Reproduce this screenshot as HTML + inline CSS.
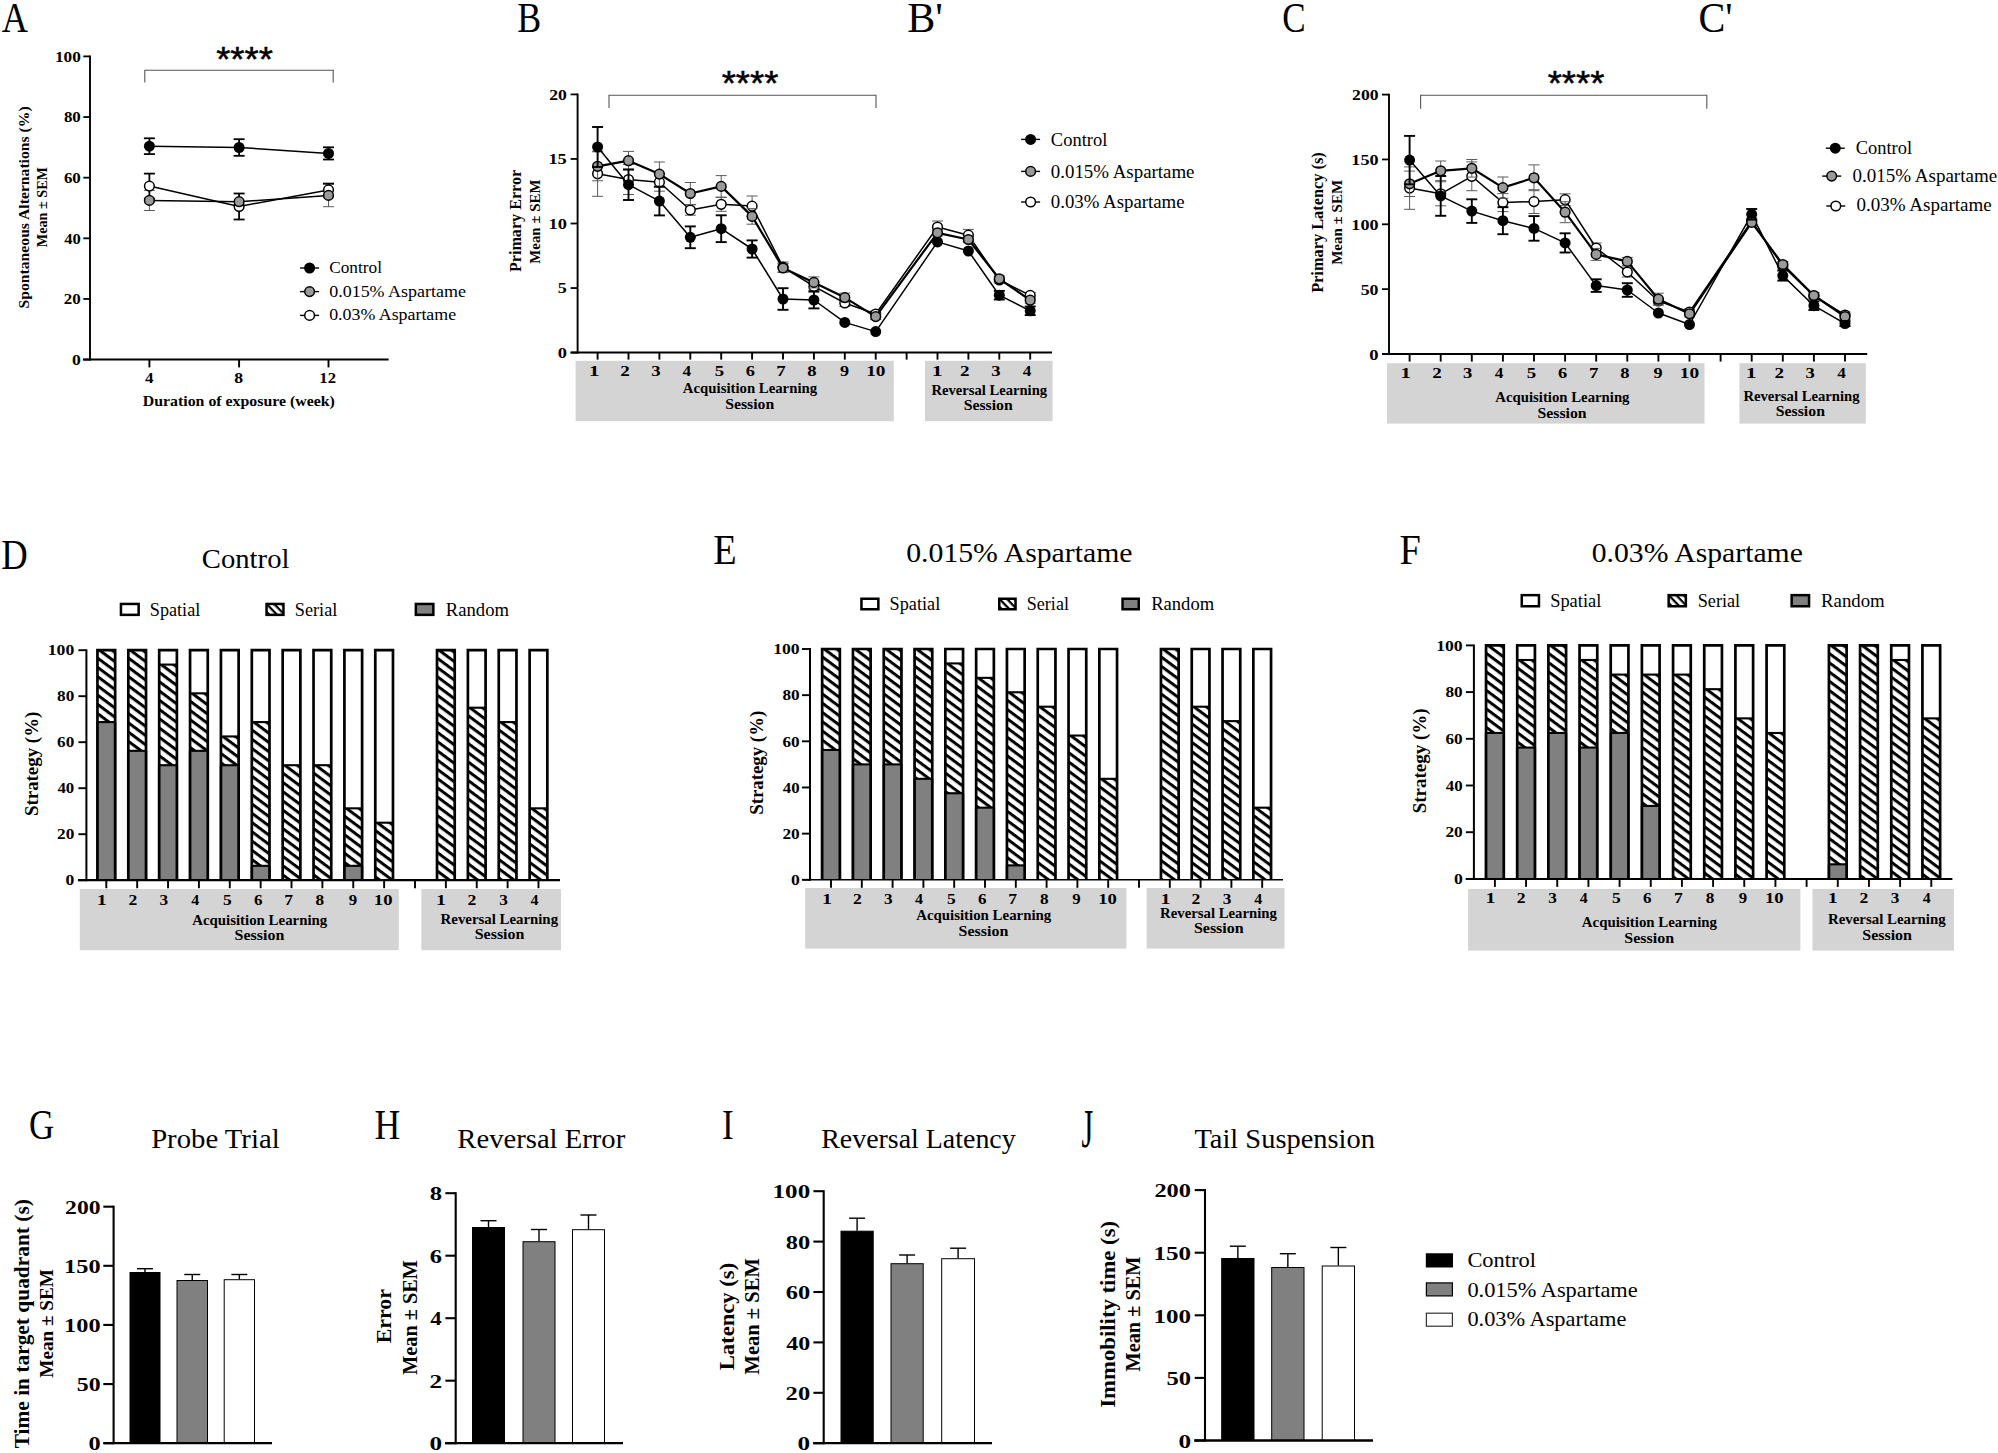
<!DOCTYPE html>
<html lang="en"><head><meta charset="utf-8"><title>Figure</title>
<style>html,body{margin:0;padding:0;background:#fff}svg{display:block}text{white-space:pre;font-family:"Liberation Serif",serif;fill:#000}.b{font-weight:bold}.s{font-family:"Liberation Sans",sans-serif;stroke:#000;stroke-width:.5px;stroke-linejoin:round}</style></head>
<body>
<svg width="1998" height="1453" viewBox="0 0 1998 1453">
<defs>
<pattern id="h" x="0" y="-3.5" width="12" height="7.43" patternUnits="userSpaceOnUse" patternTransform="rotate(36.6)"><rect width="12" height="7.43" fill="#fff"/><rect width="12" height="3" fill="#000"/></pattern>
<pattern id="h2" x="0" y="-1.1" width="12" height="5.4" patternUnits="userSpaceOnUse" patternTransform="rotate(46)"><rect width="12" height="5.4" fill="#fff"/><rect width="12" height="2.2" fill="#000"/></pattern>
</defs>
<rect width="1998" height="1453" fill="#fff"/>
<text transform="translate(1.64,32) scale(0.8504,1)" font-size="42.7">A</text>
<line x1="90" y1="55.5" x2="90" y2="360.6" stroke="#000" stroke-width="1.9"/>
<line x1="83" y1="359.6" x2="388.6" y2="359.6" stroke="#000" stroke-width="2"/>
<line x1="83.3" y1="359.6" x2="90" y2="359.6" stroke="#000" stroke-width="1.8"/>
<line x1="83.3" y1="298.96" x2="90" y2="298.96" stroke="#000" stroke-width="1.8"/>
<line x1="83.3" y1="238.32" x2="90" y2="238.32" stroke="#000" stroke-width="1.8"/>
<line x1="83.3" y1="177.68" x2="90" y2="177.68" stroke="#000" stroke-width="1.8"/>
<line x1="83.3" y1="117.04" x2="90" y2="117.04" stroke="#000" stroke-width="1.8"/>
<line x1="83.3" y1="56.4" x2="90" y2="56.4" stroke="#000" stroke-width="1.8"/>
<text transform="translate(72,364.9) scale(1.2235,1)" font-size="14.4" class="b">0</text>
<text transform="translate(63.82,304.26) scale(1.1775,1)" font-size="14.4" class="b">20</text>
<text transform="translate(64.25,243.62) scale(1.1464,1)" font-size="14.4" class="b">40</text>
<text transform="translate(63.91,182.98) scale(1.1712,1)" font-size="14.4" class="b">60</text>
<text transform="translate(63.91,122.34) scale(1.1712,1)" font-size="14.4" class="b">80</text>
<text transform="translate(54.92,61.7) scale(1.1977,1)" font-size="14.4" class="b">100</text>
<line x1="149.4" y1="359.6" x2="149.4" y2="367.4" stroke="#000" stroke-width="1.9"/>
<line x1="239.1" y1="359.6" x2="239.1" y2="367.4" stroke="#000" stroke-width="1.9"/>
<line x1="328.5" y1="359.6" x2="328.5" y2="367.4" stroke="#000" stroke-width="1.9"/>
<text transform="translate(144.95,382.5) scale(1.1964,1)" font-size="14.2" class="b">4</text>
<text transform="translate(234.18,382.5) scale(1.2447,1)" font-size="14.2" class="b">8</text>
<text transform="translate(319.36,382.5) scale(1.1764,1)" font-size="14.2" class="b">12</text>
<text transform="translate(142.76,405.6) scale(1.0865,1)" font-size="14.6" class="b">Duration of exposure (week)</text>
<text transform="translate(28.5,308.46) rotate(-90) scale(1.0325,1)" font-size="15.2" class="b">Spontaneous Alternations (%)</text>
<text transform="translate(46.7,247.21) rotate(-90) scale(0.9710,1)" font-size="14.6" class="b">Mean ± SEM</text>
<polyline fill="none" stroke="#555" stroke-width="1.1" points="144.8,82.6 144.8,70.3 333.2,70.3 333.2,82.6"/>
<text transform="translate(216.2,71.05) scale(1.0441,1)" font-size="34.86" class="s">****</text>
<line x1="149.4" y1="190.3" x2="149.4" y2="210.5" stroke="#5c5c5c" stroke-width="1"/>
<line x1="143.9" y1="190.3" x2="154.9" y2="190.3" stroke="#5c5c5c" stroke-width="1"/>
<line x1="143.9" y1="210.5" x2="154.9" y2="210.5" stroke="#5c5c5c" stroke-width="1"/>
<line x1="328.5" y1="184.1" x2="328.5" y2="206.7" stroke="#5c5c5c" stroke-width="1"/>
<line x1="323" y1="184.1" x2="334" y2="184.1" stroke="#5c5c5c" stroke-width="1"/>
<line x1="323" y1="206.7" x2="334" y2="206.7" stroke="#5c5c5c" stroke-width="1"/>
<line x1="149.4" y1="173.6" x2="149.4" y2="198.6" stroke="#000" stroke-width="1.8"/>
<line x1="143.9" y1="173.6" x2="154.9" y2="173.6" stroke="#000" stroke-width="1.8"/>
<line x1="143.9" y1="198.6" x2="154.9" y2="198.6" stroke="#000" stroke-width="1.8"/>
<line x1="239.1" y1="193.5" x2="239.1" y2="219.5" stroke="#000" stroke-width="1.8"/>
<line x1="233.6" y1="193.5" x2="244.6" y2="193.5" stroke="#000" stroke-width="1.8"/>
<line x1="233.6" y1="219.5" x2="244.6" y2="219.5" stroke="#000" stroke-width="1.8"/>
<line x1="328.5" y1="183.6" x2="328.5" y2="196.2" stroke="#000" stroke-width="1.8"/>
<line x1="323" y1="183.6" x2="334" y2="183.6" stroke="#000" stroke-width="1.8"/>
<line x1="323" y1="196.2" x2="334" y2="196.2" stroke="#000" stroke-width="1.8"/>
<polyline fill="none" stroke="#000" stroke-width="1.5" stroke-linejoin="round" points="149.4,186.1 239.1,206.5 328.5,189.9"/>
<circle cx="149.4" cy="186.1" r="4.85" fill="#fff" stroke="#000" stroke-width="1.5"/>
<circle cx="239.1" cy="206.5" r="4.85" fill="#fff" stroke="#000" stroke-width="1.5"/>
<circle cx="328.5" cy="189.9" r="4.85" fill="#fff" stroke="#000" stroke-width="1.5"/>
<line x1="149.4" y1="138.3" x2="149.4" y2="154.1" stroke="#000" stroke-width="1.8"/>
<line x1="143.9" y1="138.3" x2="154.9" y2="138.3" stroke="#000" stroke-width="1.8"/>
<line x1="143.9" y1="154.1" x2="154.9" y2="154.1" stroke="#000" stroke-width="1.8"/>
<line x1="239.1" y1="139.2" x2="239.1" y2="155.8" stroke="#000" stroke-width="1.8"/>
<line x1="233.6" y1="139.2" x2="244.6" y2="139.2" stroke="#000" stroke-width="1.8"/>
<line x1="233.6" y1="155.8" x2="244.6" y2="155.8" stroke="#000" stroke-width="1.8"/>
<line x1="328.5" y1="147.3" x2="328.5" y2="159.5" stroke="#000" stroke-width="1.8"/>
<line x1="323" y1="147.3" x2="334" y2="147.3" stroke="#000" stroke-width="1.8"/>
<line x1="323" y1="159.5" x2="334" y2="159.5" stroke="#000" stroke-width="1.8"/>
<polyline fill="none" stroke="#000" stroke-width="1.5" stroke-linejoin="round" points="149.4,146.2 239.1,147.5 328.5,153.4"/>
<circle cx="149.4" cy="146.2" r="5.5" fill="#000" stroke="#000" stroke-width="0.01"/>
<circle cx="239.1" cy="147.5" r="5.5" fill="#000" stroke="#000" stroke-width="0.01"/>
<circle cx="328.5" cy="153.4" r="5.5" fill="#000" stroke="#000" stroke-width="0.01"/>
<polyline fill="none" stroke="#000" stroke-width="1.5" stroke-linejoin="round" points="149.4,200.4 239.1,201.7 328.5,195.4"/>
<circle cx="149.4" cy="200.4" r="4.85" fill="#9a9a9a" stroke="#000" stroke-width="1.5"/>
<circle cx="239.1" cy="201.7" r="4.85" fill="#9a9a9a" stroke="#000" stroke-width="1.5"/>
<circle cx="328.5" cy="195.4" r="4.85" fill="#9a9a9a" stroke="#000" stroke-width="1.5"/>
<line x1="300.1" y1="268" x2="319.1" y2="268" stroke="#000" stroke-width="1.4"/>
<circle cx="309.6" cy="268" r="5.5" fill="#000" stroke="#000" stroke-width="0.01"/>
<text transform="translate(329.21,273) scale(0.9811,1)" font-size="17.6">Control</text>
<line x1="300.1" y1="291.6" x2="319.1" y2="291.6" stroke="#000" stroke-width="1.4"/>
<circle cx="309.6" cy="291.6" r="4.85" fill="#9a9a9a" stroke="#000" stroke-width="1.5"/>
<text transform="translate(329.18,297) scale(1.0217,1)" font-size="17.6">0.015% Aspartame</text>
<line x1="300.1" y1="315.4" x2="319.1" y2="315.4" stroke="#000" stroke-width="1.4"/>
<circle cx="309.6" cy="315.4" r="4.85" fill="#fff" stroke="#000" stroke-width="1.5"/>
<text transform="translate(329.19,320.4) scale(1.0152,1)" font-size="17.6">0.03% Aspartame</text>
<text transform="translate(517.32,32) scale(0.8415,1)" font-size="42.7">B</text>
<text transform="translate(907.14,32) scale(0.9851,1)" font-size="42.7">B'</text>
<line x1="577.6" y1="93.5" x2="577.6" y2="353.6" stroke="#000" stroke-width="1.9"/>
<line x1="570.6" y1="352.6" x2="1052" y2="352.6" stroke="#000" stroke-width="2"/>
<line x1="570.6" y1="352.6" x2="577.6" y2="352.6" stroke="#000" stroke-width="1.8"/>
<line x1="570.6" y1="288.05" x2="577.6" y2="288.05" stroke="#000" stroke-width="1.8"/>
<line x1="570.6" y1="223.5" x2="577.6" y2="223.5" stroke="#000" stroke-width="1.8"/>
<line x1="570.6" y1="158.95" x2="577.6" y2="158.95" stroke="#000" stroke-width="1.8"/>
<line x1="570.6" y1="94.4" x2="577.6" y2="94.4" stroke="#000" stroke-width="1.8"/>
<text transform="translate(557.67,358) scale(1.1828,1)" font-size="15.5" class="b">0</text>
<text transform="translate(557.68,293.45) scale(1.1689,1)" font-size="15.5" class="b">5</text>
<text transform="translate(548.43,228.9) scale(1.1877,1)" font-size="15.5" class="b">10</text>
<text transform="translate(548.44,164.35) scale(1.1810,1)" font-size="15.5" class="b">15</text>
<text transform="translate(549.2,99.8) scale(1.1360,1)" font-size="15.5" class="b">20</text>
<line x1="597.6" y1="352.6" x2="597.6" y2="359.6" stroke="#000" stroke-width="1.9"/>
<line x1="628.5" y1="352.6" x2="628.5" y2="359.6" stroke="#000" stroke-width="1.9"/>
<line x1="659.4" y1="352.6" x2="659.4" y2="359.6" stroke="#000" stroke-width="1.9"/>
<line x1="690.3" y1="352.6" x2="690.3" y2="359.6" stroke="#000" stroke-width="1.9"/>
<line x1="721.2" y1="352.6" x2="721.2" y2="359.6" stroke="#000" stroke-width="1.9"/>
<line x1="752.1" y1="352.6" x2="752.1" y2="359.6" stroke="#000" stroke-width="1.9"/>
<line x1="783" y1="352.6" x2="783" y2="359.6" stroke="#000" stroke-width="1.9"/>
<line x1="813.9" y1="352.6" x2="813.9" y2="359.6" stroke="#000" stroke-width="1.9"/>
<line x1="844.8" y1="352.6" x2="844.8" y2="359.6" stroke="#000" stroke-width="1.9"/>
<line x1="875.7" y1="352.6" x2="875.7" y2="359.6" stroke="#000" stroke-width="1.9"/>
<line x1="906.6" y1="352.6" x2="906.6" y2="359.6" stroke="#000" stroke-width="1.9"/>
<line x1="937.5" y1="352.6" x2="937.5" y2="359.6" stroke="#000" stroke-width="1.9"/>
<line x1="968.4" y1="352.6" x2="968.4" y2="359.6" stroke="#000" stroke-width="1.9"/>
<line x1="999.3" y1="352.6" x2="999.3" y2="359.6" stroke="#000" stroke-width="1.9"/>
<line x1="1030.2" y1="352.6" x2="1030.2" y2="359.6" stroke="#000" stroke-width="1.9"/>
<rect x="575.6" y="360.8" width="318.2" height="60.4" fill="#d4d4d4"/>
<rect x="925" y="360.8" width="127.6" height="60.4" fill="#d4d4d4"/>
<text transform="translate(588.67,376) scale(1.4040,1)" font-size="15.4" class="b">1</text>
<text transform="translate(620.24,376) scale(1.2369,1)" font-size="15.4" class="b">2</text>
<text transform="translate(651.15,376) scale(1.2081,1)" font-size="15.4" class="b">3</text>
<text transform="translate(682.54,376) scale(1.1172,1)" font-size="15.4" class="b">4</text>
<text transform="translate(714.85,376) scale(1.2223,1)" font-size="15.4" class="b">5</text>
<text transform="translate(745.86,376) scale(1.1942,1)" font-size="15.4" class="b">6</text>
<text transform="translate(776.15,376) scale(1.2369,1)" font-size="15.4" class="b">7</text>
<text transform="translate(807.35,376) scale(1.2081,1)" font-size="15.4" class="b">8</text>
<text transform="translate(840.05,376) scale(1.1806,1)" font-size="15.4" class="b">9</text>
<text transform="translate(866.15,376) scale(1.2544,1)" font-size="15.4" class="b">10</text>
<text transform="translate(931.67,376) scale(1.4040,1)" font-size="15.4" class="b">1</text>
<text transform="translate(959.94,376) scale(1.2369,1)" font-size="15.4" class="b">2</text>
<text transform="translate(991.35,376) scale(1.2081,1)" font-size="15.4" class="b">3</text>
<text transform="translate(1022.74,376) scale(1.1172,1)" font-size="15.4" class="b">4</text>
<text transform="translate(682.85,393.4) scale(1.0125,1)" font-size="14.6" class="b">Acquisition Learning</text>
<text transform="translate(725.13,408.8) scale(1.0815,1)" font-size="14.6" class="b">Session</text>
<text transform="translate(931.38,395.2) scale(1.0018,1)" font-size="14.6" class="b">Reversal Learning</text>
<text transform="translate(963.63,410.4) scale(1.0815,1)" font-size="14.6" class="b">Session</text>
<text transform="translate(521.2,272.04) rotate(-90) scale(0.9835,1)" font-size="16.4" class="b">Primary Error</text>
<text transform="translate(540,263.72) rotate(-90) scale(0.9606,1)" font-size="15.5" class="b">Mean ± SEM</text>
<polyline fill="none" stroke="#555" stroke-width="1.1" points="609,108 609,95.3 876,95.3 876,108"/>
<text transform="translate(721.7,95.05) scale(1.0441,1)" font-size="34.86" class="s">****</text>
<line x1="597.6" y1="151.3" x2="597.6" y2="196.3" stroke="#5c5c5c" stroke-width="1"/>
<line x1="592.1" y1="151.3" x2="603.1" y2="151.3" stroke="#5c5c5c" stroke-width="1"/>
<line x1="592.1" y1="196.3" x2="603.1" y2="196.3" stroke="#5c5c5c" stroke-width="1"/>
<line x1="628.5" y1="164.5" x2="628.5" y2="194.5" stroke="#5c5c5c" stroke-width="1"/>
<line x1="623" y1="164.5" x2="634" y2="164.5" stroke="#5c5c5c" stroke-width="1"/>
<line x1="623" y1="194.5" x2="634" y2="194.5" stroke="#5c5c5c" stroke-width="1"/>
<line x1="659.4" y1="173.2" x2="659.4" y2="191.2" stroke="#5c5c5c" stroke-width="1"/>
<line x1="653.9" y1="173.2" x2="664.9" y2="173.2" stroke="#5c5c5c" stroke-width="1"/>
<line x1="653.9" y1="191.2" x2="664.9" y2="191.2" stroke="#5c5c5c" stroke-width="1"/>
<line x1="690.3" y1="204.8" x2="690.3" y2="215.2" stroke="#5c5c5c" stroke-width="1"/>
<line x1="684.8" y1="204.8" x2="695.8" y2="204.8" stroke="#5c5c5c" stroke-width="1"/>
<line x1="684.8" y1="215.2" x2="695.8" y2="215.2" stroke="#5c5c5c" stroke-width="1"/>
<line x1="721.2" y1="197.3" x2="721.2" y2="211.3" stroke="#5c5c5c" stroke-width="1"/>
<line x1="715.7" y1="197.3" x2="726.7" y2="197.3" stroke="#5c5c5c" stroke-width="1"/>
<line x1="715.7" y1="211.3" x2="726.7" y2="211.3" stroke="#5c5c5c" stroke-width="1"/>
<line x1="752.1" y1="196" x2="752.1" y2="216.2" stroke="#5c5c5c" stroke-width="1"/>
<line x1="746.6" y1="196" x2="757.6" y2="196" stroke="#5c5c5c" stroke-width="1"/>
<line x1="746.6" y1="216.2" x2="757.6" y2="216.2" stroke="#5c5c5c" stroke-width="1"/>
<line x1="783" y1="262" x2="783" y2="272" stroke="#5c5c5c" stroke-width="1"/>
<line x1="777.5" y1="262" x2="788.5" y2="262" stroke="#5c5c5c" stroke-width="1"/>
<line x1="777.5" y1="272" x2="788.5" y2="272" stroke="#5c5c5c" stroke-width="1"/>
<line x1="813.9" y1="282.4" x2="813.9" y2="290.4" stroke="#5c5c5c" stroke-width="1"/>
<line x1="808.4" y1="282.4" x2="819.4" y2="282.4" stroke="#5c5c5c" stroke-width="1"/>
<line x1="808.4" y1="290.4" x2="819.4" y2="290.4" stroke="#5c5c5c" stroke-width="1"/>
<line x1="844.8" y1="299.5" x2="844.8" y2="306.5" stroke="#5c5c5c" stroke-width="1"/>
<line x1="839.3" y1="299.5" x2="850.3" y2="299.5" stroke="#5c5c5c" stroke-width="1"/>
<line x1="839.3" y1="306.5" x2="850.3" y2="306.5" stroke="#5c5c5c" stroke-width="1"/>
<line x1="875.7" y1="311" x2="875.7" y2="317" stroke="#5c5c5c" stroke-width="1"/>
<line x1="870.2" y1="311" x2="881.2" y2="311" stroke="#5c5c5c" stroke-width="1"/>
<line x1="870.2" y1="317" x2="881.2" y2="317" stroke="#5c5c5c" stroke-width="1"/>
<line x1="937.5" y1="221" x2="937.5" y2="233" stroke="#5c5c5c" stroke-width="1"/>
<line x1="932" y1="221" x2="943" y2="221" stroke="#5c5c5c" stroke-width="1"/>
<line x1="932" y1="233" x2="943" y2="233" stroke="#5c5c5c" stroke-width="1"/>
<line x1="968.4" y1="229.4" x2="968.4" y2="241" stroke="#5c5c5c" stroke-width="1"/>
<line x1="962.9" y1="229.4" x2="973.9" y2="229.4" stroke="#5c5c5c" stroke-width="1"/>
<line x1="962.9" y1="241" x2="973.9" y2="241" stroke="#5c5c5c" stroke-width="1"/>
<line x1="999.3" y1="277" x2="999.3" y2="283" stroke="#5c5c5c" stroke-width="1"/>
<line x1="993.8" y1="277" x2="1004.8" y2="277" stroke="#5c5c5c" stroke-width="1"/>
<line x1="993.8" y1="283" x2="1004.8" y2="283" stroke="#5c5c5c" stroke-width="1"/>
<line x1="1030.2" y1="292.4" x2="1030.2" y2="298.4" stroke="#5c5c5c" stroke-width="1"/>
<line x1="1024.7" y1="292.4" x2="1035.7" y2="292.4" stroke="#5c5c5c" stroke-width="1"/>
<line x1="1024.7" y1="298.4" x2="1035.7" y2="298.4" stroke="#5c5c5c" stroke-width="1"/>
<polyline fill="none" stroke="#000" stroke-width="1.5" stroke-linejoin="round" points="597.6,173.8 628.5,179.5 659.4,182.2 690.3,210 721.2,204.3 752.1,206.1 783,267 813.9,286.4 844.8,303 875.7,314 937.5,227 968.4,235.2 999.3,280 1030.2,295.4"/>
<circle cx="597.6" cy="173.8" r="4.85" fill="#fff" stroke="#000" stroke-width="1.5"/>
<circle cx="628.5" cy="179.5" r="4.85" fill="#fff" stroke="#000" stroke-width="1.5"/>
<circle cx="659.4" cy="182.2" r="4.85" fill="#fff" stroke="#000" stroke-width="1.5"/>
<circle cx="690.3" cy="210" r="4.85" fill="#fff" stroke="#000" stroke-width="1.5"/>
<circle cx="721.2" cy="204.3" r="4.85" fill="#fff" stroke="#000" stroke-width="1.5"/>
<circle cx="752.1" cy="206.1" r="4.85" fill="#fff" stroke="#000" stroke-width="1.5"/>
<circle cx="783" cy="267" r="4.85" fill="#fff" stroke="#000" stroke-width="1.5"/>
<circle cx="813.9" cy="286.4" r="4.85" fill="#fff" stroke="#000" stroke-width="1.5"/>
<circle cx="844.8" cy="303" r="4.85" fill="#fff" stroke="#000" stroke-width="1.5"/>
<circle cx="875.7" cy="314" r="4.85" fill="#fff" stroke="#000" stroke-width="1.5"/>
<circle cx="937.5" cy="227" r="4.85" fill="#fff" stroke="#000" stroke-width="1.5"/>
<circle cx="968.4" cy="235.2" r="4.85" fill="#fff" stroke="#000" stroke-width="1.5"/>
<circle cx="999.3" cy="280" r="4.85" fill="#fff" stroke="#000" stroke-width="1.5"/>
<circle cx="1030.2" cy="295.4" r="4.85" fill="#fff" stroke="#000" stroke-width="1.5"/>
<line x1="597.6" y1="151.8" x2="597.6" y2="180.8" stroke="#5c5c5c" stroke-width="1"/>
<line x1="592.1" y1="151.8" x2="603.1" y2="151.8" stroke="#5c5c5c" stroke-width="1"/>
<line x1="592.1" y1="180.8" x2="603.1" y2="180.8" stroke="#5c5c5c" stroke-width="1"/>
<line x1="628.5" y1="151.4" x2="628.5" y2="170" stroke="#5c5c5c" stroke-width="1"/>
<line x1="623" y1="151.4" x2="634" y2="151.4" stroke="#5c5c5c" stroke-width="1"/>
<line x1="623" y1="170" x2="634" y2="170" stroke="#5c5c5c" stroke-width="1"/>
<line x1="659.4" y1="162" x2="659.4" y2="186.2" stroke="#5c5c5c" stroke-width="1"/>
<line x1="653.9" y1="162" x2="664.9" y2="162" stroke="#5c5c5c" stroke-width="1"/>
<line x1="653.9" y1="186.2" x2="664.9" y2="186.2" stroke="#5c5c5c" stroke-width="1"/>
<line x1="690.3" y1="182.5" x2="690.3" y2="204.5" stroke="#5c5c5c" stroke-width="1"/>
<line x1="684.8" y1="182.5" x2="695.8" y2="182.5" stroke="#5c5c5c" stroke-width="1"/>
<line x1="684.8" y1="204.5" x2="695.8" y2="204.5" stroke="#5c5c5c" stroke-width="1"/>
<line x1="721.2" y1="175.6" x2="721.2" y2="197.2" stroke="#5c5c5c" stroke-width="1"/>
<line x1="715.7" y1="175.6" x2="726.7" y2="175.6" stroke="#5c5c5c" stroke-width="1"/>
<line x1="715.7" y1="197.2" x2="726.7" y2="197.2" stroke="#5c5c5c" stroke-width="1"/>
<line x1="752.1" y1="208.6" x2="752.1" y2="224.2" stroke="#5c5c5c" stroke-width="1"/>
<line x1="746.6" y1="208.6" x2="757.6" y2="208.6" stroke="#5c5c5c" stroke-width="1"/>
<line x1="746.6" y1="224.2" x2="757.6" y2="224.2" stroke="#5c5c5c" stroke-width="1"/>
<line x1="783" y1="263.5" x2="783" y2="272.5" stroke="#5c5c5c" stroke-width="1"/>
<line x1="777.5" y1="263.5" x2="788.5" y2="263.5" stroke="#5c5c5c" stroke-width="1"/>
<line x1="777.5" y1="272.5" x2="788.5" y2="272.5" stroke="#5c5c5c" stroke-width="1"/>
<line x1="813.9" y1="276.9" x2="813.9" y2="287.9" stroke="#5c5c5c" stroke-width="1"/>
<line x1="808.4" y1="276.9" x2="819.4" y2="276.9" stroke="#5c5c5c" stroke-width="1"/>
<line x1="808.4" y1="287.9" x2="819.4" y2="287.9" stroke="#5c5c5c" stroke-width="1"/>
<line x1="844.8" y1="293.1" x2="844.8" y2="302.1" stroke="#5c5c5c" stroke-width="1"/>
<line x1="839.3" y1="293.1" x2="850.3" y2="293.1" stroke="#5c5c5c" stroke-width="1"/>
<line x1="839.3" y1="302.1" x2="850.3" y2="302.1" stroke="#5c5c5c" stroke-width="1"/>
<line x1="875.7" y1="313.6" x2="875.7" y2="319.6" stroke="#5c5c5c" stroke-width="1"/>
<line x1="870.2" y1="313.6" x2="881.2" y2="313.6" stroke="#5c5c5c" stroke-width="1"/>
<line x1="870.2" y1="319.6" x2="881.2" y2="319.6" stroke="#5c5c5c" stroke-width="1"/>
<line x1="937.5" y1="229.8" x2="937.5" y2="235.8" stroke="#5c5c5c" stroke-width="1"/>
<line x1="932" y1="229.8" x2="943" y2="229.8" stroke="#5c5c5c" stroke-width="1"/>
<line x1="932" y1="235.8" x2="943" y2="235.8" stroke="#5c5c5c" stroke-width="1"/>
<line x1="968.4" y1="236.5" x2="968.4" y2="242.5" stroke="#5c5c5c" stroke-width="1"/>
<line x1="962.9" y1="236.5" x2="973.9" y2="236.5" stroke="#5c5c5c" stroke-width="1"/>
<line x1="962.9" y1="242.5" x2="973.9" y2="242.5" stroke="#5c5c5c" stroke-width="1"/>
<line x1="999.3" y1="275.8" x2="999.3" y2="281.8" stroke="#5c5c5c" stroke-width="1"/>
<line x1="993.8" y1="275.8" x2="1004.8" y2="275.8" stroke="#5c5c5c" stroke-width="1"/>
<line x1="993.8" y1="281.8" x2="1004.8" y2="281.8" stroke="#5c5c5c" stroke-width="1"/>
<line x1="1030.2" y1="297.2" x2="1030.2" y2="303.2" stroke="#5c5c5c" stroke-width="1"/>
<line x1="1024.7" y1="297.2" x2="1035.7" y2="297.2" stroke="#5c5c5c" stroke-width="1"/>
<line x1="1024.7" y1="303.2" x2="1035.7" y2="303.2" stroke="#5c5c5c" stroke-width="1"/>
<polyline fill="none" stroke="#000" stroke-width="1.5" stroke-linejoin="round" points="597.6,147 628.5,184.7 659.4,201.1 690.3,237.3 721.2,228.7 752.1,249 783,299 813.9,300 844.8,322.4 875.7,331.6 937.5,241.9 968.4,251 999.3,295.2 1030.2,310.8"/>
<circle cx="597.6" cy="147" r="5.5" fill="#000" stroke="#000" stroke-width="0.01"/>
<circle cx="628.5" cy="184.7" r="5.5" fill="#000" stroke="#000" stroke-width="0.01"/>
<circle cx="659.4" cy="201.1" r="5.5" fill="#000" stroke="#000" stroke-width="0.01"/>
<circle cx="690.3" cy="237.3" r="5.5" fill="#000" stroke="#000" stroke-width="0.01"/>
<circle cx="721.2" cy="228.7" r="5.5" fill="#000" stroke="#000" stroke-width="0.01"/>
<circle cx="752.1" cy="249" r="5.5" fill="#000" stroke="#000" stroke-width="0.01"/>
<circle cx="783" cy="299" r="5.5" fill="#000" stroke="#000" stroke-width="0.01"/>
<circle cx="813.9" cy="300" r="5.5" fill="#000" stroke="#000" stroke-width="0.01"/>
<circle cx="844.8" cy="322.4" r="5.5" fill="#000" stroke="#000" stroke-width="0.01"/>
<circle cx="875.7" cy="331.6" r="5.5" fill="#000" stroke="#000" stroke-width="0.01"/>
<circle cx="937.5" cy="241.9" r="5.5" fill="#000" stroke="#000" stroke-width="0.01"/>
<circle cx="968.4" cy="251" r="5.5" fill="#000" stroke="#000" stroke-width="0.01"/>
<circle cx="999.3" cy="295.2" r="5.5" fill="#000" stroke="#000" stroke-width="0.01"/>
<circle cx="1030.2" cy="310.8" r="5.5" fill="#000" stroke="#000" stroke-width="0.01"/>
<polyline fill="none" stroke="#000" stroke-width="2.2" stroke-linejoin="round" points="597.6,166.3 628.5,160.7 659.4,174.1 690.3,193.5 721.2,186.4 752.1,216.4 783,268 813.9,282.4 844.8,297.6 875.7,316.6 937.5,232.8 968.4,239.5 999.3,278.8 1030.2,300.2"/>
<circle cx="597.6" cy="166.3" r="4.85" fill="#9a9a9a" stroke="#000" stroke-width="1.5"/>
<circle cx="628.5" cy="160.7" r="4.85" fill="#9a9a9a" stroke="#000" stroke-width="1.5"/>
<circle cx="659.4" cy="174.1" r="4.85" fill="#9a9a9a" stroke="#000" stroke-width="1.5"/>
<circle cx="690.3" cy="193.5" r="4.85" fill="#9a9a9a" stroke="#000" stroke-width="1.5"/>
<circle cx="721.2" cy="186.4" r="4.85" fill="#9a9a9a" stroke="#000" stroke-width="1.5"/>
<circle cx="752.1" cy="216.4" r="4.85" fill="#9a9a9a" stroke="#000" stroke-width="1.5"/>
<circle cx="783" cy="268" r="4.85" fill="#9a9a9a" stroke="#000" stroke-width="1.5"/>
<circle cx="813.9" cy="282.4" r="4.85" fill="#9a9a9a" stroke="#000" stroke-width="1.5"/>
<circle cx="844.8" cy="297.6" r="4.85" fill="#9a9a9a" stroke="#000" stroke-width="1.5"/>
<circle cx="875.7" cy="316.6" r="4.85" fill="#9a9a9a" stroke="#000" stroke-width="1.5"/>
<circle cx="937.5" cy="232.8" r="4.85" fill="#9a9a9a" stroke="#000" stroke-width="1.5"/>
<circle cx="968.4" cy="239.5" r="4.85" fill="#9a9a9a" stroke="#000" stroke-width="1.5"/>
<circle cx="999.3" cy="278.8" r="4.85" fill="#9a9a9a" stroke="#000" stroke-width="1.5"/>
<circle cx="1030.2" cy="300.2" r="4.85" fill="#9a9a9a" stroke="#000" stroke-width="1.5"/>
<line x1="597.6" y1="127" x2="597.6" y2="167" stroke="#000" stroke-width="1.9"/>
<line x1="592.1" y1="127" x2="603.1" y2="127" stroke="#000" stroke-width="1.9"/>
<line x1="592.1" y1="167" x2="603.1" y2="167" stroke="#000" stroke-width="1.9"/>
<line x1="628.5" y1="169.4" x2="628.5" y2="200" stroke="#000" stroke-width="1.9"/>
<line x1="623" y1="169.4" x2="634" y2="169.4" stroke="#000" stroke-width="1.9"/>
<line x1="623" y1="200" x2="634" y2="200" stroke="#000" stroke-width="1.9"/>
<line x1="659.4" y1="186.8" x2="659.4" y2="215.4" stroke="#000" stroke-width="1.9"/>
<line x1="653.9" y1="186.8" x2="664.9" y2="186.8" stroke="#000" stroke-width="1.9"/>
<line x1="653.9" y1="215.4" x2="664.9" y2="215.4" stroke="#000" stroke-width="1.9"/>
<line x1="690.3" y1="226.4" x2="690.3" y2="248.2" stroke="#000" stroke-width="1.9"/>
<line x1="684.8" y1="226.4" x2="695.8" y2="226.4" stroke="#000" stroke-width="1.9"/>
<line x1="684.8" y1="248.2" x2="695.8" y2="248.2" stroke="#000" stroke-width="1.9"/>
<line x1="721.2" y1="215.3" x2="721.2" y2="242.1" stroke="#000" stroke-width="1.9"/>
<line x1="715.7" y1="215.3" x2="726.7" y2="215.3" stroke="#000" stroke-width="1.9"/>
<line x1="715.7" y1="242.1" x2="726.7" y2="242.1" stroke="#000" stroke-width="1.9"/>
<line x1="752.1" y1="240.4" x2="752.1" y2="257.6" stroke="#000" stroke-width="1.9"/>
<line x1="746.6" y1="240.4" x2="757.6" y2="240.4" stroke="#000" stroke-width="1.9"/>
<line x1="746.6" y1="257.6" x2="757.6" y2="257.6" stroke="#000" stroke-width="1.9"/>
<line x1="783" y1="288.2" x2="783" y2="309.8" stroke="#000" stroke-width="1.9"/>
<line x1="777.5" y1="288.2" x2="788.5" y2="288.2" stroke="#000" stroke-width="1.9"/>
<line x1="777.5" y1="309.8" x2="788.5" y2="309.8" stroke="#000" stroke-width="1.9"/>
<line x1="813.9" y1="291.6" x2="813.9" y2="308.4" stroke="#000" stroke-width="1.9"/>
<line x1="808.4" y1="291.6" x2="819.4" y2="291.6" stroke="#000" stroke-width="1.9"/>
<line x1="808.4" y1="308.4" x2="819.4" y2="308.4" stroke="#000" stroke-width="1.9"/>
<line x1="999.3" y1="290.9" x2="999.3" y2="299.5" stroke="#000" stroke-width="1.9"/>
<line x1="993.8" y1="290.9" x2="1004.8" y2="290.9" stroke="#000" stroke-width="1.9"/>
<line x1="993.8" y1="299.5" x2="1004.8" y2="299.5" stroke="#000" stroke-width="1.9"/>
<line x1="1030.2" y1="306.5" x2="1030.2" y2="315.1" stroke="#000" stroke-width="1.9"/>
<line x1="1024.7" y1="306.5" x2="1035.7" y2="306.5" stroke="#000" stroke-width="1.9"/>
<line x1="1024.7" y1="315.1" x2="1035.7" y2="315.1" stroke="#000" stroke-width="1.9"/>
<line x1="1021.1" y1="139.4" x2="1040.1" y2="139.4" stroke="#000" stroke-width="1.4"/>
<circle cx="1030.6" cy="139.4" r="5.5" fill="#000" stroke="#000" stroke-width="0.01"/>
<text transform="translate(1050.86,145.8) scale(0.9823,1)" font-size="18.8">Control</text>
<line x1="1021.1" y1="171.4" x2="1040.1" y2="171.4" stroke="#000" stroke-width="1.4"/>
<circle cx="1030.6" cy="171.4" r="4.85" fill="#9a9a9a" stroke="#000" stroke-width="1.5"/>
<text transform="translate(1050.84,177.6) scale(1.0052,1)" font-size="18.8">0.015% Aspartame</text>
<line x1="1021.1" y1="202" x2="1040.1" y2="202" stroke="#000" stroke-width="1.4"/>
<circle cx="1030.6" cy="202" r="4.85" fill="#fff" stroke="#000" stroke-width="1.5"/>
<text transform="translate(1050.85,208.4) scale(1.0011,1)" font-size="18.8">0.03% Aspartame</text>
<text transform="translate(1282.2,32) scale(0.8217,1)" font-size="42.7">C</text>
<text transform="translate(1698.39,32) scale(0.9429,1)" font-size="42.7">C'</text>
<line x1="1389" y1="93.7" x2="1389" y2="355" stroke="#000" stroke-width="1.9"/>
<line x1="1382" y1="354" x2="1867.2" y2="354" stroke="#000" stroke-width="2"/>
<line x1="1382" y1="354" x2="1389" y2="354" stroke="#000" stroke-width="1.8"/>
<line x1="1382" y1="289.15" x2="1389" y2="289.15" stroke="#000" stroke-width="1.8"/>
<line x1="1382" y1="224.3" x2="1389" y2="224.3" stroke="#000" stroke-width="1.8"/>
<line x1="1382" y1="159.45" x2="1389" y2="159.45" stroke="#000" stroke-width="1.8"/>
<line x1="1382" y1="94.6" x2="1389" y2="94.6" stroke="#000" stroke-width="1.8"/>
<text transform="translate(1369.26,359.5) scale(1.1982,1)" font-size="15.5" class="b">0</text>
<text transform="translate(1360.69,294.65) scale(1.1501,1)" font-size="15.5" class="b">50</text>
<text transform="translate(1351.35,229.8) scale(1.1688,1)" font-size="15.5" class="b">100</text>
<text transform="translate(1351.35,164.95) scale(1.1688,1)" font-size="15.5" class="b">150</text>
<text transform="translate(1352.1,100.1) scale(1.1358,1)" font-size="15.5" class="b">200</text>
<line x1="1409.6" y1="354" x2="1409.6" y2="361.6" stroke="#000" stroke-width="1.9"/>
<line x1="1440.7" y1="354" x2="1440.7" y2="361.6" stroke="#000" stroke-width="1.9"/>
<line x1="1471.8" y1="354" x2="1471.8" y2="361.6" stroke="#000" stroke-width="1.9"/>
<line x1="1502.9" y1="354" x2="1502.9" y2="361.6" stroke="#000" stroke-width="1.9"/>
<line x1="1534" y1="354" x2="1534" y2="361.6" stroke="#000" stroke-width="1.9"/>
<line x1="1565.1" y1="354" x2="1565.1" y2="361.6" stroke="#000" stroke-width="1.9"/>
<line x1="1596.2" y1="354" x2="1596.2" y2="361.6" stroke="#000" stroke-width="1.9"/>
<line x1="1627.3" y1="354" x2="1627.3" y2="361.6" stroke="#000" stroke-width="1.9"/>
<line x1="1658.4" y1="354" x2="1658.4" y2="361.6" stroke="#000" stroke-width="1.9"/>
<line x1="1689.5" y1="354" x2="1689.5" y2="361.6" stroke="#000" stroke-width="1.9"/>
<line x1="1720.6" y1="354" x2="1720.6" y2="361.6" stroke="#000" stroke-width="1.9"/>
<line x1="1751.7" y1="354" x2="1751.7" y2="361.6" stroke="#000" stroke-width="1.9"/>
<line x1="1782.8" y1="354" x2="1782.8" y2="361.6" stroke="#000" stroke-width="1.9"/>
<line x1="1813.9" y1="354" x2="1813.9" y2="361.6" stroke="#000" stroke-width="1.9"/>
<line x1="1845" y1="354" x2="1845" y2="361.6" stroke="#000" stroke-width="1.9"/>
<rect x="1387" y="363.2" width="317.5" height="60.4" fill="#d4d4d4"/>
<rect x="1739.4" y="363.2" width="126.4" height="60.4" fill="#d4d4d4"/>
<text transform="translate(1400.27,377.7) scale(1.4040,1)" font-size="15.4" class="b">1</text>
<text transform="translate(1432.24,377.7) scale(1.2369,1)" font-size="15.4" class="b">2</text>
<text transform="translate(1462.95,377.7) scale(1.2081,1)" font-size="15.4" class="b">3</text>
<text transform="translate(1494.74,377.7) scale(1.1172,1)" font-size="15.4" class="b">4</text>
<text transform="translate(1526.85,377.7) scale(1.2223,1)" font-size="15.4" class="b">5</text>
<text transform="translate(1557.96,377.7) scale(1.1942,1)" font-size="15.4" class="b">6</text>
<text transform="translate(1588.95,377.7) scale(1.2369,1)" font-size="15.4" class="b">7</text>
<text transform="translate(1620.35,377.7) scale(1.2081,1)" font-size="15.4" class="b">8</text>
<text transform="translate(1653.55,377.7) scale(1.1806,1)" font-size="15.4" class="b">9</text>
<text transform="translate(1679.75,377.7) scale(1.2544,1)" font-size="15.4" class="b">10</text>
<text transform="translate(1745.77,377.7) scale(1.4040,1)" font-size="15.4" class="b">1</text>
<text transform="translate(1774.44,377.7) scale(1.2369,1)" font-size="15.4" class="b">2</text>
<text transform="translate(1805.55,377.7) scale(1.2081,1)" font-size="15.4" class="b">3</text>
<text transform="translate(1837.34,377.7) scale(1.1172,1)" font-size="15.4" class="b">4</text>
<text transform="translate(1495.25,402) scale(1.0125,1)" font-size="14.6" class="b">Acquisition Learning</text>
<text transform="translate(1537.53,417.6) scale(1.0815,1)" font-size="14.6" class="b">Session</text>
<text transform="translate(1743.38,401) scale(1.0061,1)" font-size="14.6" class="b">Reversal Learning</text>
<text transform="translate(1775.83,416.4) scale(1.0815,1)" font-size="14.6" class="b">Session</text>
<text transform="translate(1322.8,292.85) rotate(-90) scale(1.0212,1)" font-size="16" class="b">Primary Latency (s)</text>
<text transform="translate(1342.3,264.82) rotate(-90) scale(0.9675,1)" font-size="15.5" class="b">Mean ± SEM</text>
<polyline fill="none" stroke="#555" stroke-width="1.1" points="1420.6,108.8 1420.6,95.3 1706.8,95.3 1706.8,108.8"/>
<text transform="translate(1547.7,95.05) scale(1.0441,1)" font-size="34.86" class="s">****</text>
<line x1="1409.6" y1="166.9" x2="1409.6" y2="209.3" stroke="#5c5c5c" stroke-width="1"/>
<line x1="1404.1" y1="166.9" x2="1415.1" y2="166.9" stroke="#5c5c5c" stroke-width="1"/>
<line x1="1404.1" y1="209.3" x2="1415.1" y2="209.3" stroke="#5c5c5c" stroke-width="1"/>
<line x1="1440.7" y1="181.8" x2="1440.7" y2="205.8" stroke="#5c5c5c" stroke-width="1"/>
<line x1="1435.2" y1="181.8" x2="1446.2" y2="181.8" stroke="#5c5c5c" stroke-width="1"/>
<line x1="1435.2" y1="205.8" x2="1446.2" y2="205.8" stroke="#5c5c5c" stroke-width="1"/>
<line x1="1471.8" y1="161.9" x2="1471.8" y2="190.7" stroke="#5c5c5c" stroke-width="1"/>
<line x1="1466.3" y1="161.9" x2="1477.3" y2="161.9" stroke="#5c5c5c" stroke-width="1"/>
<line x1="1466.3" y1="190.7" x2="1477.3" y2="190.7" stroke="#5c5c5c" stroke-width="1"/>
<line x1="1502.9" y1="193.6" x2="1502.9" y2="211.6" stroke="#5c5c5c" stroke-width="1"/>
<line x1="1497.4" y1="193.6" x2="1508.4" y2="193.6" stroke="#5c5c5c" stroke-width="1"/>
<line x1="1497.4" y1="211.6" x2="1508.4" y2="211.6" stroke="#5c5c5c" stroke-width="1"/>
<line x1="1534" y1="189.7" x2="1534" y2="213.5" stroke="#5c5c5c" stroke-width="1"/>
<line x1="1528.5" y1="189.7" x2="1539.5" y2="189.7" stroke="#5c5c5c" stroke-width="1"/>
<line x1="1528.5" y1="213.5" x2="1539.5" y2="213.5" stroke="#5c5c5c" stroke-width="1"/>
<line x1="1565.1" y1="193.8" x2="1565.1" y2="205.6" stroke="#5c5c5c" stroke-width="1"/>
<line x1="1559.6" y1="193.8" x2="1570.6" y2="193.8" stroke="#5c5c5c" stroke-width="1"/>
<line x1="1559.6" y1="205.6" x2="1570.6" y2="205.6" stroke="#5c5c5c" stroke-width="1"/>
<line x1="1596.2" y1="243" x2="1596.2" y2="253" stroke="#5c5c5c" stroke-width="1"/>
<line x1="1590.7" y1="243" x2="1601.7" y2="243" stroke="#5c5c5c" stroke-width="1"/>
<line x1="1590.7" y1="253" x2="1601.7" y2="253" stroke="#5c5c5c" stroke-width="1"/>
<line x1="1627.3" y1="267" x2="1627.3" y2="277" stroke="#5c5c5c" stroke-width="1"/>
<line x1="1621.8" y1="267" x2="1632.8" y2="267" stroke="#5c5c5c" stroke-width="1"/>
<line x1="1621.8" y1="277" x2="1632.8" y2="277" stroke="#5c5c5c" stroke-width="1"/>
<line x1="1658.4" y1="298" x2="1658.4" y2="304" stroke="#5c5c5c" stroke-width="1"/>
<line x1="1652.9" y1="298" x2="1663.9" y2="298" stroke="#5c5c5c" stroke-width="1"/>
<line x1="1652.9" y1="304" x2="1663.9" y2="304" stroke="#5c5c5c" stroke-width="1"/>
<line x1="1689.5" y1="309" x2="1689.5" y2="315" stroke="#5c5c5c" stroke-width="1"/>
<line x1="1684" y1="309" x2="1695" y2="309" stroke="#5c5c5c" stroke-width="1"/>
<line x1="1684" y1="315" x2="1695" y2="315" stroke="#5c5c5c" stroke-width="1"/>
<line x1="1751.7" y1="218" x2="1751.7" y2="224" stroke="#5c5c5c" stroke-width="1"/>
<line x1="1746.2" y1="218" x2="1757.2" y2="218" stroke="#5c5c5c" stroke-width="1"/>
<line x1="1746.2" y1="224" x2="1757.2" y2="224" stroke="#5c5c5c" stroke-width="1"/>
<line x1="1782.8" y1="263" x2="1782.8" y2="269" stroke="#5c5c5c" stroke-width="1"/>
<line x1="1777.3" y1="263" x2="1788.3" y2="263" stroke="#5c5c5c" stroke-width="1"/>
<line x1="1777.3" y1="269" x2="1788.3" y2="269" stroke="#5c5c5c" stroke-width="1"/>
<line x1="1813.9" y1="293" x2="1813.9" y2="299" stroke="#5c5c5c" stroke-width="1"/>
<line x1="1808.4" y1="293" x2="1819.4" y2="293" stroke="#5c5c5c" stroke-width="1"/>
<line x1="1808.4" y1="299" x2="1819.4" y2="299" stroke="#5c5c5c" stroke-width="1"/>
<line x1="1845" y1="312" x2="1845" y2="318" stroke="#5c5c5c" stroke-width="1"/>
<line x1="1839.5" y1="312" x2="1850.5" y2="312" stroke="#5c5c5c" stroke-width="1"/>
<line x1="1839.5" y1="318" x2="1850.5" y2="318" stroke="#5c5c5c" stroke-width="1"/>
<polyline fill="none" stroke="#000" stroke-width="1.5" stroke-linejoin="round" points="1409.6,188.1 1440.7,193.8 1471.8,176.3 1502.9,202.6 1534,201.6 1565.1,199.7 1596.2,248 1627.3,272 1658.4,301 1689.5,312 1751.7,221 1782.8,266 1813.9,296 1845,315"/>
<circle cx="1409.6" cy="188.1" r="4.85" fill="#fff" stroke="#000" stroke-width="1.5"/>
<circle cx="1440.7" cy="193.8" r="4.85" fill="#fff" stroke="#000" stroke-width="1.5"/>
<circle cx="1471.8" cy="176.3" r="4.85" fill="#fff" stroke="#000" stroke-width="1.5"/>
<circle cx="1502.9" cy="202.6" r="4.85" fill="#fff" stroke="#000" stroke-width="1.5"/>
<circle cx="1534" cy="201.6" r="4.85" fill="#fff" stroke="#000" stroke-width="1.5"/>
<circle cx="1565.1" cy="199.7" r="4.85" fill="#fff" stroke="#000" stroke-width="1.5"/>
<circle cx="1596.2" cy="248" r="4.85" fill="#fff" stroke="#000" stroke-width="1.5"/>
<circle cx="1627.3" cy="272" r="4.85" fill="#fff" stroke="#000" stroke-width="1.5"/>
<circle cx="1658.4" cy="301" r="4.85" fill="#fff" stroke="#000" stroke-width="1.5"/>
<circle cx="1689.5" cy="312" r="4.85" fill="#fff" stroke="#000" stroke-width="1.5"/>
<circle cx="1751.7" cy="221" r="4.85" fill="#fff" stroke="#000" stroke-width="1.5"/>
<circle cx="1782.8" cy="266" r="4.85" fill="#fff" stroke="#000" stroke-width="1.5"/>
<circle cx="1813.9" cy="296" r="4.85" fill="#fff" stroke="#000" stroke-width="1.5"/>
<circle cx="1845" cy="315" r="4.85" fill="#fff" stroke="#000" stroke-width="1.5"/>
<line x1="1409.6" y1="171.1" x2="1409.6" y2="196.5" stroke="#5c5c5c" stroke-width="1"/>
<line x1="1404.1" y1="171.1" x2="1415.1" y2="171.1" stroke="#5c5c5c" stroke-width="1"/>
<line x1="1404.1" y1="196.5" x2="1415.1" y2="196.5" stroke="#5c5c5c" stroke-width="1"/>
<line x1="1440.7" y1="161" x2="1440.7" y2="180.6" stroke="#5c5c5c" stroke-width="1"/>
<line x1="1435.2" y1="161" x2="1446.2" y2="161" stroke="#5c5c5c" stroke-width="1"/>
<line x1="1435.2" y1="180.6" x2="1446.2" y2="180.6" stroke="#5c5c5c" stroke-width="1"/>
<line x1="1471.8" y1="159.5" x2="1471.8" y2="177.1" stroke="#5c5c5c" stroke-width="1"/>
<line x1="1466.3" y1="159.5" x2="1477.3" y2="159.5" stroke="#5c5c5c" stroke-width="1"/>
<line x1="1466.3" y1="177.1" x2="1477.3" y2="177.1" stroke="#5c5c5c" stroke-width="1"/>
<line x1="1502.9" y1="177" x2="1502.9" y2="198.2" stroke="#5c5c5c" stroke-width="1"/>
<line x1="1497.4" y1="177" x2="1508.4" y2="177" stroke="#5c5c5c" stroke-width="1"/>
<line x1="1497.4" y1="198.2" x2="1508.4" y2="198.2" stroke="#5c5c5c" stroke-width="1"/>
<line x1="1534" y1="164.9" x2="1534" y2="190.7" stroke="#5c5c5c" stroke-width="1"/>
<line x1="1528.5" y1="164.9" x2="1539.5" y2="164.9" stroke="#5c5c5c" stroke-width="1"/>
<line x1="1528.5" y1="190.7" x2="1539.5" y2="190.7" stroke="#5c5c5c" stroke-width="1"/>
<line x1="1565.1" y1="201.7" x2="1565.1" y2="222.7" stroke="#5c5c5c" stroke-width="1"/>
<line x1="1559.6" y1="201.7" x2="1570.6" y2="201.7" stroke="#5c5c5c" stroke-width="1"/>
<line x1="1559.6" y1="222.7" x2="1570.6" y2="222.7" stroke="#5c5c5c" stroke-width="1"/>
<line x1="1596.2" y1="248.4" x2="1596.2" y2="260.4" stroke="#5c5c5c" stroke-width="1"/>
<line x1="1590.7" y1="248.4" x2="1601.7" y2="248.4" stroke="#5c5c5c" stroke-width="1"/>
<line x1="1590.7" y1="260.4" x2="1601.7" y2="260.4" stroke="#5c5c5c" stroke-width="1"/>
<line x1="1627.3" y1="257.4" x2="1627.3" y2="265.4" stroke="#5c5c5c" stroke-width="1"/>
<line x1="1621.8" y1="257.4" x2="1632.8" y2="257.4" stroke="#5c5c5c" stroke-width="1"/>
<line x1="1621.8" y1="265.4" x2="1632.8" y2="265.4" stroke="#5c5c5c" stroke-width="1"/>
<line x1="1658.4" y1="293.2" x2="1658.4" y2="305.2" stroke="#5c5c5c" stroke-width="1"/>
<line x1="1652.9" y1="293.2" x2="1663.9" y2="293.2" stroke="#5c5c5c" stroke-width="1"/>
<line x1="1652.9" y1="305.2" x2="1663.9" y2="305.2" stroke="#5c5c5c" stroke-width="1"/>
<line x1="1689.5" y1="310.8" x2="1689.5" y2="316.8" stroke="#5c5c5c" stroke-width="1"/>
<line x1="1684" y1="310.8" x2="1695" y2="310.8" stroke="#5c5c5c" stroke-width="1"/>
<line x1="1684" y1="316.8" x2="1695" y2="316.8" stroke="#5c5c5c" stroke-width="1"/>
<line x1="1751.7" y1="219.4" x2="1751.7" y2="225.4" stroke="#5c5c5c" stroke-width="1"/>
<line x1="1746.2" y1="219.4" x2="1757.2" y2="219.4" stroke="#5c5c5c" stroke-width="1"/>
<line x1="1746.2" y1="225.4" x2="1757.2" y2="225.4" stroke="#5c5c5c" stroke-width="1"/>
<line x1="1782.8" y1="261.5" x2="1782.8" y2="267.5" stroke="#5c5c5c" stroke-width="1"/>
<line x1="1777.3" y1="261.5" x2="1788.3" y2="261.5" stroke="#5c5c5c" stroke-width="1"/>
<line x1="1777.3" y1="267.5" x2="1788.3" y2="267.5" stroke="#5c5c5c" stroke-width="1"/>
<line x1="1813.9" y1="292.5" x2="1813.9" y2="298.5" stroke="#5c5c5c" stroke-width="1"/>
<line x1="1808.4" y1="292.5" x2="1819.4" y2="292.5" stroke="#5c5c5c" stroke-width="1"/>
<line x1="1808.4" y1="298.5" x2="1819.4" y2="298.5" stroke="#5c5c5c" stroke-width="1"/>
<line x1="1845" y1="313.5" x2="1845" y2="319.5" stroke="#5c5c5c" stroke-width="1"/>
<line x1="1839.5" y1="313.5" x2="1850.5" y2="313.5" stroke="#5c5c5c" stroke-width="1"/>
<line x1="1839.5" y1="319.5" x2="1850.5" y2="319.5" stroke="#5c5c5c" stroke-width="1"/>
<polyline fill="none" stroke="#000" stroke-width="1.5" stroke-linejoin="round" points="1409.6,160.1 1440.7,195.9 1471.8,211.1 1502.9,220.7 1534,228.4 1565.1,242.9 1596.2,285.6 1627.3,290 1658.4,313 1689.5,324.5 1751.7,214.3 1782.8,275.6 1813.9,305.7 1845,323.6"/>
<circle cx="1409.6" cy="160.1" r="5.5" fill="#000" stroke="#000" stroke-width="0.01"/>
<circle cx="1440.7" cy="195.9" r="5.5" fill="#000" stroke="#000" stroke-width="0.01"/>
<circle cx="1471.8" cy="211.1" r="5.5" fill="#000" stroke="#000" stroke-width="0.01"/>
<circle cx="1502.9" cy="220.7" r="5.5" fill="#000" stroke="#000" stroke-width="0.01"/>
<circle cx="1534" cy="228.4" r="5.5" fill="#000" stroke="#000" stroke-width="0.01"/>
<circle cx="1565.1" cy="242.9" r="5.5" fill="#000" stroke="#000" stroke-width="0.01"/>
<circle cx="1596.2" cy="285.6" r="5.5" fill="#000" stroke="#000" stroke-width="0.01"/>
<circle cx="1627.3" cy="290" r="5.5" fill="#000" stroke="#000" stroke-width="0.01"/>
<circle cx="1658.4" cy="313" r="5.5" fill="#000" stroke="#000" stroke-width="0.01"/>
<circle cx="1689.5" cy="324.5" r="5.5" fill="#000" stroke="#000" stroke-width="0.01"/>
<circle cx="1751.7" cy="214.3" r="5.5" fill="#000" stroke="#000" stroke-width="0.01"/>
<circle cx="1782.8" cy="275.6" r="5.5" fill="#000" stroke="#000" stroke-width="0.01"/>
<circle cx="1813.9" cy="305.7" r="5.5" fill="#000" stroke="#000" stroke-width="0.01"/>
<circle cx="1845" cy="323.6" r="5.5" fill="#000" stroke="#000" stroke-width="0.01"/>
<polyline fill="none" stroke="#000" stroke-width="2.2" stroke-linejoin="round" points="1409.6,183.8 1440.7,170.8 1471.8,168.3 1502.9,187.6 1534,177.8 1565.1,212.2 1596.2,254.4 1627.3,261.4 1658.4,299.2 1689.5,313.8 1751.7,222.4 1782.8,264.5 1813.9,295.5 1845,316.5"/>
<circle cx="1409.6" cy="183.8" r="4.85" fill="#9a9a9a" stroke="#000" stroke-width="1.5"/>
<circle cx="1440.7" cy="170.8" r="4.85" fill="#9a9a9a" stroke="#000" stroke-width="1.5"/>
<circle cx="1471.8" cy="168.3" r="4.85" fill="#9a9a9a" stroke="#000" stroke-width="1.5"/>
<circle cx="1502.9" cy="187.6" r="4.85" fill="#9a9a9a" stroke="#000" stroke-width="1.5"/>
<circle cx="1534" cy="177.8" r="4.85" fill="#9a9a9a" stroke="#000" stroke-width="1.5"/>
<circle cx="1565.1" cy="212.2" r="4.85" fill="#9a9a9a" stroke="#000" stroke-width="1.5"/>
<circle cx="1596.2" cy="254.4" r="4.85" fill="#9a9a9a" stroke="#000" stroke-width="1.5"/>
<circle cx="1627.3" cy="261.4" r="4.85" fill="#9a9a9a" stroke="#000" stroke-width="1.5"/>
<circle cx="1658.4" cy="299.2" r="4.85" fill="#9a9a9a" stroke="#000" stroke-width="1.5"/>
<circle cx="1689.5" cy="313.8" r="4.85" fill="#9a9a9a" stroke="#000" stroke-width="1.5"/>
<circle cx="1751.7" cy="222.4" r="4.85" fill="#9a9a9a" stroke="#000" stroke-width="1.5"/>
<circle cx="1782.8" cy="264.5" r="4.85" fill="#9a9a9a" stroke="#000" stroke-width="1.5"/>
<circle cx="1813.9" cy="295.5" r="4.85" fill="#9a9a9a" stroke="#000" stroke-width="1.5"/>
<circle cx="1845" cy="316.5" r="4.85" fill="#9a9a9a" stroke="#000" stroke-width="1.5"/>
<line x1="1409.6" y1="135.9" x2="1409.6" y2="184.3" stroke="#000" stroke-width="1.9"/>
<line x1="1404.1" y1="135.9" x2="1415.1" y2="135.9" stroke="#000" stroke-width="1.9"/>
<line x1="1404.1" y1="184.3" x2="1415.1" y2="184.3" stroke="#000" stroke-width="1.9"/>
<line x1="1440.7" y1="176" x2="1440.7" y2="215.8" stroke="#000" stroke-width="1.9"/>
<line x1="1435.2" y1="176" x2="1446.2" y2="176" stroke="#000" stroke-width="1.9"/>
<line x1="1435.2" y1="215.8" x2="1446.2" y2="215.8" stroke="#000" stroke-width="1.9"/>
<line x1="1471.8" y1="199.3" x2="1471.8" y2="222.9" stroke="#000" stroke-width="1.9"/>
<line x1="1466.3" y1="199.3" x2="1477.3" y2="199.3" stroke="#000" stroke-width="1.9"/>
<line x1="1466.3" y1="222.9" x2="1477.3" y2="222.9" stroke="#000" stroke-width="1.9"/>
<line x1="1502.9" y1="207.2" x2="1502.9" y2="234.2" stroke="#000" stroke-width="1.9"/>
<line x1="1497.4" y1="207.2" x2="1508.4" y2="207.2" stroke="#000" stroke-width="1.9"/>
<line x1="1497.4" y1="234.2" x2="1508.4" y2="234.2" stroke="#000" stroke-width="1.9"/>
<line x1="1534" y1="216.1" x2="1534" y2="240.7" stroke="#000" stroke-width="1.9"/>
<line x1="1528.5" y1="216.1" x2="1539.5" y2="216.1" stroke="#000" stroke-width="1.9"/>
<line x1="1528.5" y1="240.7" x2="1539.5" y2="240.7" stroke="#000" stroke-width="1.9"/>
<line x1="1565.1" y1="233.3" x2="1565.1" y2="252.5" stroke="#000" stroke-width="1.9"/>
<line x1="1559.6" y1="233.3" x2="1570.6" y2="233.3" stroke="#000" stroke-width="1.9"/>
<line x1="1559.6" y1="252.5" x2="1570.6" y2="252.5" stroke="#000" stroke-width="1.9"/>
<line x1="1596.2" y1="279.3" x2="1596.2" y2="291.9" stroke="#000" stroke-width="1.9"/>
<line x1="1590.7" y1="279.3" x2="1601.7" y2="279.3" stroke="#000" stroke-width="1.9"/>
<line x1="1590.7" y1="291.9" x2="1601.7" y2="291.9" stroke="#000" stroke-width="1.9"/>
<line x1="1627.3" y1="283.2" x2="1627.3" y2="296.8" stroke="#000" stroke-width="1.9"/>
<line x1="1621.8" y1="283.2" x2="1632.8" y2="283.2" stroke="#000" stroke-width="1.9"/>
<line x1="1621.8" y1="296.8" x2="1632.8" y2="296.8" stroke="#000" stroke-width="1.9"/>
<line x1="1751.7" y1="209" x2="1751.7" y2="219.6" stroke="#000" stroke-width="1.9"/>
<line x1="1746.2" y1="209" x2="1757.2" y2="209" stroke="#000" stroke-width="1.9"/>
<line x1="1746.2" y1="219.6" x2="1757.2" y2="219.6" stroke="#000" stroke-width="1.9"/>
<line x1="1782.8" y1="270.6" x2="1782.8" y2="280.6" stroke="#000" stroke-width="1.9"/>
<line x1="1777.3" y1="270.6" x2="1788.3" y2="270.6" stroke="#000" stroke-width="1.9"/>
<line x1="1777.3" y1="280.6" x2="1788.3" y2="280.6" stroke="#000" stroke-width="1.9"/>
<line x1="1813.9" y1="301.4" x2="1813.9" y2="310" stroke="#000" stroke-width="1.9"/>
<line x1="1808.4" y1="301.4" x2="1819.4" y2="301.4" stroke="#000" stroke-width="1.9"/>
<line x1="1808.4" y1="310" x2="1819.4" y2="310" stroke="#000" stroke-width="1.9"/>
<line x1="1845" y1="321.1" x2="1845" y2="326.1" stroke="#000" stroke-width="1.9"/>
<line x1="1839.5" y1="321.1" x2="1850.5" y2="321.1" stroke="#000" stroke-width="1.9"/>
<line x1="1839.5" y1="326.1" x2="1850.5" y2="326.1" stroke="#000" stroke-width="1.9"/>
<line x1="1825.8" y1="148.2" x2="1844.8" y2="148.2" stroke="#000" stroke-width="1.4"/>
<circle cx="1835.3" cy="148.2" r="5.5" fill="#000" stroke="#000" stroke-width="0.01"/>
<text transform="translate(1855.66,153.7) scale(0.9719,1)" font-size="19">Control</text>
<line x1="1822.2" y1="176.1" x2="1841.2" y2="176.1" stroke="#000" stroke-width="1.4"/>
<circle cx="1831.7" cy="176.1" r="4.85" fill="#9a9a9a" stroke="#000" stroke-width="1.5"/>
<text transform="translate(1852.44,181.9) scale(1.0016,1)" font-size="19">0.015% Aspartame</text>
<line x1="1826.3" y1="206" x2="1845.3" y2="206" stroke="#000" stroke-width="1.4"/>
<circle cx="1835.8" cy="206" r="4.85" fill="#fff" stroke="#000" stroke-width="1.5"/>
<text transform="translate(1856.54,211.4) scale(1.0018,1)" font-size="19">0.03% Aspartame</text>
<text transform="translate(1.3,568.6) scale(0.8581,1)" font-size="42.7">D</text>
<text transform="translate(201.85,568) scale(1.0238,1)" font-size="28">Control</text>
<rect x="120.95" y="603.95" width="17.7" height="10.9" fill="none" stroke="#000" stroke-width="2.5"/>
<text transform="translate(149.82,615.6) scale(0.9569,1)" font-size="19">Spatial</text>
<g transform="translate(267.8,605.2)"><rect x="-1.5" y="-1.5" width="17.4" height="11.4" fill="url(#h2)"/></g>
<rect x="266.55" y="603.95" width="16.9" height="10.9" fill="none" stroke="#000" stroke-width="2.5"/>
<text transform="translate(294.82,615.6) scale(0.9591,1)" font-size="19">Serial</text>
<rect x="415.85" y="603.95" width="17.5" height="10.9" fill="#808080" stroke="#000" stroke-width="2.5"/>
<text transform="translate(445.84,615.6) scale(0.9818,1)" font-size="19">Random</text>
<rect x="79.8" y="889" width="319" height="61.2" fill="#d4d4d4"/>
<rect x="421.3" y="889" width="139.7" height="61.2" fill="#d4d4d4"/>
<rect x="96.1" y="722.08" width="20.4" height="158.12" fill="#808080"/>
<g transform="translate(96.1,650.2)"><rect x="1" y="0" width="18.4" height="71.88" fill="url(#h)"/></g>
<line x1="97.1" y1="722.08" x2="115.5" y2="722.08" stroke="#000" stroke-width="2.1"/>
<path d="M97.45 880.2V650.2H115.15V880.2" fill="none" stroke="#000" stroke-width="2.7"/>
<rect x="126.97" y="750.83" width="20.4" height="129.38" fill="#808080"/>
<g transform="translate(126.97,650.2)"><rect x="1" y="0" width="18.4" height="100.62" fill="url(#h)"/></g>
<line x1="127.97" y1="750.83" x2="146.37" y2="750.83" stroke="#000" stroke-width="2.1"/>
<path d="M128.32 880.2V650.2H146.02V880.2" fill="none" stroke="#000" stroke-width="2.7"/>
<rect x="157.84" y="765.2" width="20.4" height="115" fill="#808080"/>
<g transform="translate(157.84,664.58)"><rect x="1" y="0" width="18.4" height="100.62" fill="url(#h)"/></g>
<line x1="158.84" y1="765.2" x2="177.24" y2="765.2" stroke="#000" stroke-width="2.1"/>
<line x1="158.84" y1="664.58" x2="177.24" y2="664.58" stroke="#000" stroke-width="2.1"/>
<path d="M159.19 880.2V650.2H176.89V880.2" fill="none" stroke="#000" stroke-width="2.7"/>
<rect x="188.71" y="750.83" width="20.4" height="129.38" fill="#808080"/>
<g transform="translate(188.71,693.33)"><rect x="1" y="0" width="18.4" height="57.5" fill="url(#h)"/></g>
<line x1="189.71" y1="750.83" x2="208.11" y2="750.83" stroke="#000" stroke-width="2.1"/>
<line x1="189.71" y1="693.33" x2="208.11" y2="693.33" stroke="#000" stroke-width="2.1"/>
<path d="M190.06 880.2V650.2H207.76V880.2" fill="none" stroke="#000" stroke-width="2.7"/>
<rect x="219.58" y="765.2" width="20.4" height="115" fill="#808080"/>
<g transform="translate(219.58,736.45)"><rect x="1" y="0" width="18.4" height="28.75" fill="url(#h)"/></g>
<line x1="220.58" y1="765.2" x2="238.98" y2="765.2" stroke="#000" stroke-width="2.1"/>
<line x1="220.58" y1="736.45" x2="238.98" y2="736.45" stroke="#000" stroke-width="2.1"/>
<path d="M220.93 880.2V650.2H238.63V880.2" fill="none" stroke="#000" stroke-width="2.7"/>
<rect x="250.45" y="865.83" width="20.4" height="14.38" fill="#808080"/>
<g transform="translate(250.45,722.08)"><rect x="1" y="0" width="18.4" height="143.75" fill="url(#h)"/></g>
<line x1="251.45" y1="865.83" x2="269.85" y2="865.83" stroke="#000" stroke-width="2.1"/>
<line x1="251.45" y1="722.08" x2="269.85" y2="722.08" stroke="#000" stroke-width="2.1"/>
<path d="M251.8 880.2V650.2H269.5V880.2" fill="none" stroke="#000" stroke-width="2.7"/>
<g transform="translate(281.32,765.2)"><rect x="1" y="0" width="18.4" height="115" fill="url(#h)"/></g>
<line x1="282.32" y1="765.2" x2="300.72" y2="765.2" stroke="#000" stroke-width="2.1"/>
<path d="M282.67 880.2V650.2H300.37V880.2" fill="none" stroke="#000" stroke-width="2.7"/>
<g transform="translate(312.19,765.2)"><rect x="1" y="0" width="18.4" height="115" fill="url(#h)"/></g>
<line x1="313.19" y1="765.2" x2="331.59" y2="765.2" stroke="#000" stroke-width="2.1"/>
<path d="M313.54 880.2V650.2H331.24V880.2" fill="none" stroke="#000" stroke-width="2.7"/>
<rect x="343.06" y="865.83" width="20.4" height="14.38" fill="#808080"/>
<g transform="translate(343.06,808.33)"><rect x="1" y="0" width="18.4" height="57.5" fill="url(#h)"/></g>
<line x1="344.06" y1="865.83" x2="362.46" y2="865.83" stroke="#000" stroke-width="2.1"/>
<line x1="344.06" y1="808.33" x2="362.46" y2="808.33" stroke="#000" stroke-width="2.1"/>
<path d="M344.41 880.2V650.2H362.11V880.2" fill="none" stroke="#000" stroke-width="2.7"/>
<g transform="translate(373.93,822.7)"><rect x="1" y="0" width="18.4" height="57.5" fill="url(#h)"/></g>
<line x1="374.93" y1="822.7" x2="393.33" y2="822.7" stroke="#000" stroke-width="2.1"/>
<path d="M375.28 880.2V650.2H392.98V880.2" fill="none" stroke="#000" stroke-width="2.7"/>
<g transform="translate(435.67,650.2)"><rect x="1" y="0" width="18.4" height="230" fill="url(#h)"/></g>
<path d="M437.02 880.2V650.2H454.72V880.2" fill="none" stroke="#000" stroke-width="2.7"/>
<g transform="translate(466.54,707.7)"><rect x="1" y="0" width="18.4" height="172.5" fill="url(#h)"/></g>
<line x1="467.54" y1="707.7" x2="485.94" y2="707.7" stroke="#000" stroke-width="2.1"/>
<path d="M467.89 880.2V650.2H485.59V880.2" fill="none" stroke="#000" stroke-width="2.7"/>
<g transform="translate(497.41,722.08)"><rect x="1" y="0" width="18.4" height="158.12" fill="url(#h)"/></g>
<line x1="498.41" y1="722.08" x2="516.81" y2="722.08" stroke="#000" stroke-width="2.1"/>
<path d="M498.76 880.2V650.2H516.46V880.2" fill="none" stroke="#000" stroke-width="2.7"/>
<g transform="translate(528.28,808.33)"><rect x="1" y="0" width="18.4" height="71.88" fill="url(#h)"/></g>
<line x1="529.28" y1="808.33" x2="547.68" y2="808.33" stroke="#000" stroke-width="2.1"/>
<path d="M529.63 880.2V650.2H547.33V880.2" fill="none" stroke="#000" stroke-width="2.7"/>
<line x1="86.4" y1="649.3" x2="86.4" y2="881.2" stroke="#000" stroke-width="2"/>
<line x1="78" y1="880.2" x2="560" y2="880.2" stroke="#000" stroke-width="2.2"/>
<line x1="78.4" y1="880.2" x2="86.4" y2="880.2" stroke="#000" stroke-width="1.9"/>
<line x1="78.4" y1="834.2" x2="86.4" y2="834.2" stroke="#000" stroke-width="1.9"/>
<line x1="78.4" y1="788.2" x2="86.4" y2="788.2" stroke="#000" stroke-width="1.9"/>
<line x1="78.4" y1="742.2" x2="86.4" y2="742.2" stroke="#000" stroke-width="1.9"/>
<line x1="78.4" y1="696.2" x2="86.4" y2="696.2" stroke="#000" stroke-width="1.9"/>
<line x1="78.4" y1="650.2" x2="86.4" y2="650.2" stroke="#000" stroke-width="1.9"/>
<text transform="translate(65.5,885.4) scale(1.1746,1)" font-size="15" class="b">0</text>
<text transform="translate(57.01,839.4) scale(1.1522,1)" font-size="15" class="b">20</text>
<text transform="translate(57.45,793.4) scale(1.1217,1)" font-size="15" class="b">40</text>
<text transform="translate(57.1,747.4) scale(1.1459,1)" font-size="15" class="b">60</text>
<text transform="translate(57.1,701.4) scale(1.1459,1)" font-size="15" class="b">80</text>
<text transform="translate(47.79,655.4) scale(1.1787,1)" font-size="15" class="b">100</text>
<line x1="106.3" y1="880.2" x2="106.3" y2="888.2" stroke="#000" stroke-width="1.9"/>
<line x1="137.17" y1="880.2" x2="137.17" y2="888.2" stroke="#000" stroke-width="1.9"/>
<line x1="168.04" y1="880.2" x2="168.04" y2="888.2" stroke="#000" stroke-width="1.9"/>
<line x1="198.91" y1="880.2" x2="198.91" y2="888.2" stroke="#000" stroke-width="1.9"/>
<line x1="229.78" y1="880.2" x2="229.78" y2="888.2" stroke="#000" stroke-width="1.9"/>
<line x1="260.65" y1="880.2" x2="260.65" y2="888.2" stroke="#000" stroke-width="1.9"/>
<line x1="291.52" y1="880.2" x2="291.52" y2="888.2" stroke="#000" stroke-width="1.9"/>
<line x1="322.39" y1="880.2" x2="322.39" y2="888.2" stroke="#000" stroke-width="1.9"/>
<line x1="353.26" y1="880.2" x2="353.26" y2="888.2" stroke="#000" stroke-width="1.9"/>
<line x1="384.13" y1="880.2" x2="384.13" y2="888.2" stroke="#000" stroke-width="1.9"/>
<line x1="415" y1="880.2" x2="415" y2="888.2" stroke="#000" stroke-width="1.9"/>
<line x1="445.87" y1="880.2" x2="445.87" y2="888.2" stroke="#000" stroke-width="1.9"/>
<line x1="476.74" y1="880.2" x2="476.74" y2="888.2" stroke="#000" stroke-width="1.9"/>
<line x1="507.61" y1="880.2" x2="507.61" y2="888.2" stroke="#000" stroke-width="1.9"/>
<line x1="538.48" y1="880.2" x2="538.48" y2="888.2" stroke="#000" stroke-width="1.9"/>
<text transform="translate(96.7,904.9) scale(1.3699,1)" font-size="14.6" class="b">1</text>
<text transform="translate(128.6,904.9) scale(1.2068,1)" font-size="14.6" class="b">2</text>
<text transform="translate(159.4,904.9) scale(1.1787,1)" font-size="14.6" class="b">3</text>
<text transform="translate(191.26,904.9) scale(1.0900,1)" font-size="14.6" class="b">4</text>
<text transform="translate(222.9,904.9) scale(1.1926,1)" font-size="14.6" class="b">5</text>
<text transform="translate(254,904.9) scale(1.1652,1)" font-size="14.6" class="b">6</text>
<text transform="translate(284.23,904.9) scale(1.2068,1)" font-size="14.6" class="b">7</text>
<text transform="translate(315.5,904.9) scale(1.1787,1)" font-size="14.6" class="b">8</text>
<text transform="translate(348.78,904.9) scale(1.1519,1)" font-size="14.6" class="b">9</text>
<text transform="translate(373.81,904.9) scale(1.2765,1)" font-size="14.6" class="b">10</text>
<text transform="translate(436.1,904.9) scale(1.3699,1)" font-size="14.6" class="b">1</text>
<text transform="translate(467.6,904.9) scale(1.2068,1)" font-size="14.6" class="b">2</text>
<text transform="translate(499.3,904.9) scale(1.1787,1)" font-size="14.6" class="b">3</text>
<text transform="translate(530.56,904.9) scale(1.0900,1)" font-size="14.6" class="b">4</text>
<text transform="translate(192.15,925.3) scale(1.0062,1)" font-size="14.8" class="b">Acquisition Learning</text>
<text transform="translate(234.62,940.3) scale(1.0802,1)" font-size="14.8" class="b">Session</text>
<text transform="translate(440.58,923.8) scale(1.0037,1)" font-size="14.8" class="b">Reversal Learning</text>
<text transform="translate(474.72,938.8) scale(1.0802,1)" font-size="14.8" class="b">Session</text>
<text transform="translate(38.2,816.04) rotate(-90) scale(0.9945,1)" font-size="19" class="b">Strategy (%)</text>
<text transform="translate(713.35,564) scale(0.8970,1)" font-size="42.7">E</text>
<text transform="translate(906.21,562.4) scale(1.0627,1)" font-size="28">0.015% Aspartame</text>
<rect x="861.45" y="598.75" width="16.9" height="10.5" fill="none" stroke="#000" stroke-width="2.5"/>
<text transform="translate(889.62,610) scale(0.9589,1)" font-size="19">Spatial</text>
<g transform="translate(1000.5,600)"><rect x="-1.5" y="-1.5" width="16.8" height="11" fill="url(#h2)"/></g>
<rect x="999.25" y="598.75" width="16.3" height="10.5" fill="none" stroke="#000" stroke-width="2.5"/>
<text transform="translate(1026.83,610) scale(0.9497,1)" font-size="19">Serial</text>
<rect x="1122.55" y="598.75" width="16.2" height="10.5" fill="#808080" stroke="#000" stroke-width="2.5"/>
<text transform="translate(1151.24,610) scale(0.9771,1)" font-size="19">Random</text>
<rect x="805.1" y="888" width="321.3" height="60.6" fill="#d4d4d4"/>
<rect x="1146.7" y="888" width="137.8" height="60.6" fill="#d4d4d4"/>
<rect x="820.8" y="749.97" width="20.4" height="129.83" fill="#808080"/>
<g transform="translate(820.8,649)"><rect x="1" y="0" width="18.4" height="100.97" fill="url(#h)"/></g>
<line x1="821.8" y1="749.97" x2="840.2" y2="749.97" stroke="#000" stroke-width="2.1"/>
<path d="M822.15 879.8V649H839.85V879.8" fill="none" stroke="#000" stroke-width="2.7"/>
<rect x="851.6" y="764.4" width="20.4" height="115.4" fill="#808080"/>
<g transform="translate(851.6,649)"><rect x="1" y="0" width="18.4" height="115.4" fill="url(#h)"/></g>
<line x1="852.6" y1="764.4" x2="871" y2="764.4" stroke="#000" stroke-width="2.1"/>
<path d="M852.95 879.8V649H870.65V879.8" fill="none" stroke="#000" stroke-width="2.7"/>
<rect x="882.4" y="764.4" width="20.4" height="115.4" fill="#808080"/>
<g transform="translate(882.4,649)"><rect x="1" y="0" width="18.4" height="115.4" fill="url(#h)"/></g>
<line x1="883.4" y1="764.4" x2="901.8" y2="764.4" stroke="#000" stroke-width="2.1"/>
<path d="M883.75 879.8V649H901.45V879.8" fill="none" stroke="#000" stroke-width="2.7"/>
<rect x="913.2" y="778.82" width="20.4" height="100.98" fill="#808080"/>
<g transform="translate(913.2,649)"><rect x="1" y="0" width="18.4" height="129.82" fill="url(#h)"/></g>
<line x1="914.2" y1="778.82" x2="932.6" y2="778.82" stroke="#000" stroke-width="2.1"/>
<path d="M914.55 879.8V649H932.25V879.8" fill="none" stroke="#000" stroke-width="2.7"/>
<rect x="944" y="793.25" width="20.4" height="86.55" fill="#808080"/>
<g transform="translate(944,663.42)"><rect x="1" y="0" width="18.4" height="129.83" fill="url(#h)"/></g>
<line x1="945" y1="793.25" x2="963.4" y2="793.25" stroke="#000" stroke-width="2.1"/>
<line x1="945" y1="663.42" x2="963.4" y2="663.42" stroke="#000" stroke-width="2.1"/>
<path d="M945.35 879.8V649H963.05V879.8" fill="none" stroke="#000" stroke-width="2.7"/>
<rect x="974.8" y="807.67" width="20.4" height="72.12" fill="#808080"/>
<g transform="translate(974.8,677.85)"><rect x="1" y="0" width="18.4" height="129.82" fill="url(#h)"/></g>
<line x1="975.8" y1="807.67" x2="994.2" y2="807.67" stroke="#000" stroke-width="2.1"/>
<line x1="975.8" y1="677.85" x2="994.2" y2="677.85" stroke="#000" stroke-width="2.1"/>
<path d="M976.15 879.8V649H993.85V879.8" fill="none" stroke="#000" stroke-width="2.7"/>
<rect x="1005.6" y="865.38" width="20.4" height="14.42" fill="#808080"/>
<g transform="translate(1005.6,692.27)"><rect x="1" y="0" width="18.4" height="173.1" fill="url(#h)"/></g>
<line x1="1006.6" y1="865.38" x2="1025" y2="865.38" stroke="#000" stroke-width="2.1"/>
<line x1="1006.6" y1="692.27" x2="1025" y2="692.27" stroke="#000" stroke-width="2.1"/>
<path d="M1006.95 879.8V649H1024.65V879.8" fill="none" stroke="#000" stroke-width="2.7"/>
<g transform="translate(1036.4,706.7)"><rect x="1" y="0" width="18.4" height="173.1" fill="url(#h)"/></g>
<line x1="1037.4" y1="706.7" x2="1055.8" y2="706.7" stroke="#000" stroke-width="2.1"/>
<path d="M1037.75 879.8V649H1055.45V879.8" fill="none" stroke="#000" stroke-width="2.7"/>
<g transform="translate(1067.2,735.55)"><rect x="1" y="0" width="18.4" height="144.25" fill="url(#h)"/></g>
<line x1="1068.2" y1="735.55" x2="1086.6" y2="735.55" stroke="#000" stroke-width="2.1"/>
<path d="M1068.55 879.8V649H1086.25V879.8" fill="none" stroke="#000" stroke-width="2.7"/>
<g transform="translate(1098,778.82)"><rect x="1" y="0" width="18.4" height="100.98" fill="url(#h)"/></g>
<line x1="1099" y1="778.82" x2="1117.4" y2="778.82" stroke="#000" stroke-width="2.1"/>
<path d="M1099.35 879.8V649H1117.05V879.8" fill="none" stroke="#000" stroke-width="2.7"/>
<g transform="translate(1159.6,649)"><rect x="1" y="0" width="18.4" height="230.8" fill="url(#h)"/></g>
<path d="M1160.95 879.8V649H1178.65V879.8" fill="none" stroke="#000" stroke-width="2.7"/>
<g transform="translate(1190.4,706.7)"><rect x="1" y="0" width="18.4" height="173.1" fill="url(#h)"/></g>
<line x1="1191.4" y1="706.7" x2="1209.8" y2="706.7" stroke="#000" stroke-width="2.1"/>
<path d="M1191.75 879.8V649H1209.45V879.8" fill="none" stroke="#000" stroke-width="2.7"/>
<g transform="translate(1221.2,721.12)"><rect x="1" y="0" width="18.4" height="158.67" fill="url(#h)"/></g>
<line x1="1222.2" y1="721.12" x2="1240.6" y2="721.12" stroke="#000" stroke-width="2.1"/>
<path d="M1222.55 879.8V649H1240.25V879.8" fill="none" stroke="#000" stroke-width="2.7"/>
<g transform="translate(1252,807.67)"><rect x="1" y="0" width="18.4" height="72.12" fill="url(#h)"/></g>
<line x1="1253" y1="807.67" x2="1271.4" y2="807.67" stroke="#000" stroke-width="2.1"/>
<path d="M1253.35 879.8V649H1271.05V879.8" fill="none" stroke="#000" stroke-width="2.7"/>
<line x1="810" y1="648.1" x2="810" y2="880.8" stroke="#000" stroke-width="2"/>
<line x1="803" y1="879.8" x2="1283" y2="879.8" stroke="#000" stroke-width="1.5"/>
<line x1="802" y1="879.8" x2="810" y2="879.8" stroke="#000" stroke-width="1.9"/>
<line x1="802" y1="833.64" x2="810" y2="833.64" stroke="#000" stroke-width="1.9"/>
<line x1="802" y1="787.48" x2="810" y2="787.48" stroke="#000" stroke-width="1.9"/>
<line x1="802" y1="741.32" x2="810" y2="741.32" stroke="#000" stroke-width="1.9"/>
<line x1="802" y1="695.16" x2="810" y2="695.16" stroke="#000" stroke-width="1.9"/>
<line x1="802" y1="649" x2="810" y2="649" stroke="#000" stroke-width="1.9"/>
<text transform="translate(790.9,885) scale(1.1746,1)" font-size="15" class="b">0</text>
<text transform="translate(782.41,838.84) scale(1.1522,1)" font-size="15" class="b">20</text>
<text transform="translate(782.85,792.68) scale(1.1217,1)" font-size="15" class="b">40</text>
<text transform="translate(782.5,746.52) scale(1.1459,1)" font-size="15" class="b">60</text>
<text transform="translate(782.5,700.36) scale(1.1459,1)" font-size="15" class="b">80</text>
<text transform="translate(773.19,654.2) scale(1.1787,1)" font-size="15" class="b">100</text>
<line x1="831" y1="879.8" x2="831" y2="887.8" stroke="#000" stroke-width="1.9"/>
<line x1="861.8" y1="879.8" x2="861.8" y2="887.8" stroke="#000" stroke-width="1.9"/>
<line x1="892.6" y1="879.8" x2="892.6" y2="887.8" stroke="#000" stroke-width="1.9"/>
<line x1="923.4" y1="879.8" x2="923.4" y2="887.8" stroke="#000" stroke-width="1.9"/>
<line x1="954.2" y1="879.8" x2="954.2" y2="887.8" stroke="#000" stroke-width="1.9"/>
<line x1="985" y1="879.8" x2="985" y2="887.8" stroke="#000" stroke-width="1.9"/>
<line x1="1015.8" y1="879.8" x2="1015.8" y2="887.8" stroke="#000" stroke-width="1.9"/>
<line x1="1046.6" y1="879.8" x2="1046.6" y2="887.8" stroke="#000" stroke-width="1.9"/>
<line x1="1077.4" y1="879.8" x2="1077.4" y2="887.8" stroke="#000" stroke-width="1.9"/>
<line x1="1108.2" y1="879.8" x2="1108.2" y2="887.8" stroke="#000" stroke-width="1.9"/>
<line x1="1139" y1="879.8" x2="1139" y2="887.8" stroke="#000" stroke-width="1.9"/>
<line x1="1169.8" y1="879.8" x2="1169.8" y2="887.8" stroke="#000" stroke-width="1.9"/>
<line x1="1200.6" y1="879.8" x2="1200.6" y2="887.8" stroke="#000" stroke-width="1.9"/>
<line x1="1231.4" y1="879.8" x2="1231.4" y2="887.8" stroke="#000" stroke-width="1.9"/>
<line x1="1262.2" y1="879.8" x2="1262.2" y2="887.8" stroke="#000" stroke-width="1.9"/>
<text transform="translate(821.9,903.7) scale(1.3699,1)" font-size="14.6" class="b">1</text>
<text transform="translate(853.1,903.7) scale(1.2068,1)" font-size="14.6" class="b">2</text>
<text transform="translate(884.1,903.7) scale(1.1787,1)" font-size="14.6" class="b">3</text>
<text transform="translate(915.06,903.7) scale(1.0900,1)" font-size="14.6" class="b">4</text>
<text transform="translate(947,903.7) scale(1.1926,1)" font-size="14.6" class="b">5</text>
<text transform="translate(978,903.7) scale(1.1652,1)" font-size="14.6" class="b">6</text>
<text transform="translate(1008.13,903.7) scale(1.2068,1)" font-size="14.6" class="b">7</text>
<text transform="translate(1040,903.7) scale(1.1787,1)" font-size="14.6" class="b">8</text>
<text transform="translate(1072.28,903.7) scale(1.1519,1)" font-size="14.6" class="b">9</text>
<text transform="translate(1098.21,903.7) scale(1.2765,1)" font-size="14.6" class="b">10</text>
<text transform="translate(1160.5,903.7) scale(1.3699,1)" font-size="14.6" class="b">1</text>
<text transform="translate(1191.4,903.7) scale(1.2068,1)" font-size="14.6" class="b">2</text>
<text transform="translate(1222.7,903.7) scale(1.1787,1)" font-size="14.6" class="b">3</text>
<text transform="translate(1254.16,903.7) scale(1.0900,1)" font-size="14.6" class="b">4</text>
<text transform="translate(916.15,920.4) scale(1.0062,1)" font-size="14.8" class="b">Acquisition Learning</text>
<text transform="translate(958.62,935.5) scale(1.0802,1)" font-size="14.8" class="b">Session</text>
<text transform="translate(1160.08,918.2) scale(0.9985,1)" font-size="14.8" class="b">Reversal Learning</text>
<text transform="translate(1193.92,933.4) scale(1.0802,1)" font-size="14.8" class="b">Session</text>
<text transform="translate(762.5,814.84) rotate(-90) scale(0.9925,1)" font-size="19" class="b">Strategy (%)</text>
<text transform="translate(1399.45,564) scale(0.8985,1)" font-size="42.7">F</text>
<text transform="translate(1591.71,562.4) scale(1.0610,1)" font-size="28">0.03% Aspartame</text>
<rect x="1521.75" y="595.15" width="17.2" height="11.1" fill="none" stroke="#000" stroke-width="2.5"/>
<text transform="translate(1550.2,607) scale(0.9687,1)" font-size="19">Spatial</text>
<g transform="translate(1669.9,596.4)"><rect x="-1.5" y="-1.5" width="17.7" height="11.6" fill="url(#h2)"/></g>
<rect x="1668.65" y="595.15" width="17.2" height="11.1" fill="none" stroke="#000" stroke-width="2.5"/>
<text transform="translate(1697.72,607) scale(0.9567,1)" font-size="19">Serial</text>
<rect x="1791.65" y="595.15" width="17.4" height="11.1" fill="#808080" stroke="#000" stroke-width="2.5"/>
<text transform="translate(1821.04,607) scale(0.9897,1)" font-size="19">Random</text>
<rect x="1468.1" y="888.9" width="332.3" height="61.7" fill="#d4d4d4"/>
<rect x="1812.5" y="888.9" width="141.4" height="61.7" fill="#d4d4d4"/>
<rect x="1484.7" y="732.96" width="20.4" height="145.94" fill="#808080"/>
<g transform="translate(1484.7,645.4)"><rect x="1" y="0" width="18.4" height="87.56" fill="url(#h)"/></g>
<line x1="1485.7" y1="732.96" x2="1504.1" y2="732.96" stroke="#000" stroke-width="2.1"/>
<path d="M1486.05 878.9V645.4H1503.75V878.9" fill="none" stroke="#000" stroke-width="2.7"/>
<rect x="1515.87" y="747.56" width="20.4" height="131.34" fill="#808080"/>
<g transform="translate(1515.87,659.99)"><rect x="1" y="0" width="18.4" height="87.56" fill="url(#h)"/></g>
<line x1="1516.87" y1="747.56" x2="1535.27" y2="747.56" stroke="#000" stroke-width="2.1"/>
<line x1="1516.87" y1="659.99" x2="1535.27" y2="659.99" stroke="#000" stroke-width="2.1"/>
<path d="M1517.22 878.9V645.4H1534.92V878.9" fill="none" stroke="#000" stroke-width="2.7"/>
<rect x="1547.04" y="732.96" width="20.4" height="145.94" fill="#808080"/>
<g transform="translate(1547.04,645.4)"><rect x="1" y="0" width="18.4" height="87.56" fill="url(#h)"/></g>
<line x1="1548.04" y1="732.96" x2="1566.44" y2="732.96" stroke="#000" stroke-width="2.1"/>
<path d="M1548.39 878.9V645.4H1566.09V878.9" fill="none" stroke="#000" stroke-width="2.7"/>
<rect x="1578.21" y="747.56" width="20.4" height="131.34" fill="#808080"/>
<g transform="translate(1578.21,659.99)"><rect x="1" y="0" width="18.4" height="87.56" fill="url(#h)"/></g>
<line x1="1579.21" y1="747.56" x2="1597.61" y2="747.56" stroke="#000" stroke-width="2.1"/>
<line x1="1579.21" y1="659.99" x2="1597.61" y2="659.99" stroke="#000" stroke-width="2.1"/>
<path d="M1579.56 878.9V645.4H1597.26V878.9" fill="none" stroke="#000" stroke-width="2.7"/>
<rect x="1609.38" y="732.96" width="20.4" height="145.94" fill="#808080"/>
<g transform="translate(1609.38,674.59)"><rect x="1" y="0" width="18.4" height="58.38" fill="url(#h)"/></g>
<line x1="1610.38" y1="732.96" x2="1628.78" y2="732.96" stroke="#000" stroke-width="2.1"/>
<line x1="1610.38" y1="674.59" x2="1628.78" y2="674.59" stroke="#000" stroke-width="2.1"/>
<path d="M1610.73 878.9V645.4H1628.43V878.9" fill="none" stroke="#000" stroke-width="2.7"/>
<rect x="1640.55" y="805.93" width="20.4" height="72.97" fill="#808080"/>
<g transform="translate(1640.55,674.59)"><rect x="1" y="0" width="18.4" height="131.34" fill="url(#h)"/></g>
<line x1="1641.55" y1="805.93" x2="1659.95" y2="805.93" stroke="#000" stroke-width="2.1"/>
<line x1="1641.55" y1="674.59" x2="1659.95" y2="674.59" stroke="#000" stroke-width="2.1"/>
<path d="M1641.9 878.9V645.4H1659.6V878.9" fill="none" stroke="#000" stroke-width="2.7"/>
<g transform="translate(1671.72,674.59)"><rect x="1" y="0" width="18.4" height="204.31" fill="url(#h)"/></g>
<line x1="1672.72" y1="674.59" x2="1691.12" y2="674.59" stroke="#000" stroke-width="2.1"/>
<path d="M1673.07 878.9V645.4H1690.77V878.9" fill="none" stroke="#000" stroke-width="2.7"/>
<g transform="translate(1702.89,689.18)"><rect x="1" y="0" width="18.4" height="189.72" fill="url(#h)"/></g>
<line x1="1703.89" y1="689.18" x2="1722.29" y2="689.18" stroke="#000" stroke-width="2.1"/>
<path d="M1704.24 878.9V645.4H1721.94V878.9" fill="none" stroke="#000" stroke-width="2.7"/>
<g transform="translate(1734.06,718.37)"><rect x="1" y="0" width="18.4" height="160.53" fill="url(#h)"/></g>
<line x1="1735.06" y1="718.37" x2="1753.46" y2="718.37" stroke="#000" stroke-width="2.1"/>
<path d="M1735.41 878.9V645.4H1753.11V878.9" fill="none" stroke="#000" stroke-width="2.7"/>
<g transform="translate(1765.23,732.96)"><rect x="1" y="0" width="18.4" height="145.94" fill="url(#h)"/></g>
<line x1="1766.23" y1="732.96" x2="1784.63" y2="732.96" stroke="#000" stroke-width="2.1"/>
<path d="M1766.58 878.9V645.4H1784.28V878.9" fill="none" stroke="#000" stroke-width="2.7"/>
<rect x="1827.57" y="864.31" width="20.4" height="14.59" fill="#808080"/>
<g transform="translate(1827.57,645.4)"><rect x="1" y="0" width="18.4" height="218.91" fill="url(#h)"/></g>
<line x1="1828.57" y1="864.31" x2="1846.97" y2="864.31" stroke="#000" stroke-width="2.1"/>
<path d="M1828.92 878.9V645.4H1846.62V878.9" fill="none" stroke="#000" stroke-width="2.7"/>
<g transform="translate(1858.74,645.4)"><rect x="1" y="0" width="18.4" height="233.5" fill="url(#h)"/></g>
<path d="M1860.09 878.9V645.4H1877.79V878.9" fill="none" stroke="#000" stroke-width="2.7"/>
<g transform="translate(1889.91,659.99)"><rect x="1" y="0" width="18.4" height="218.91" fill="url(#h)"/></g>
<line x1="1890.91" y1="659.99" x2="1909.31" y2="659.99" stroke="#000" stroke-width="2.1"/>
<path d="M1891.26 878.9V645.4H1908.96V878.9" fill="none" stroke="#000" stroke-width="2.7"/>
<g transform="translate(1921.08,718.37)"><rect x="1" y="0" width="18.4" height="160.53" fill="url(#h)"/></g>
<line x1="1922.08" y1="718.37" x2="1940.48" y2="718.37" stroke="#000" stroke-width="2.1"/>
<path d="M1922.43 878.9V645.4H1940.13V878.9" fill="none" stroke="#000" stroke-width="2.7"/>
<line x1="1473.9" y1="644.5" x2="1473.9" y2="879.9" stroke="#000" stroke-width="2"/>
<line x1="1465.7" y1="878.9" x2="1952.4" y2="878.9" stroke="#000" stroke-width="2"/>
<line x1="1465.9" y1="878.9" x2="1473.9" y2="878.9" stroke="#000" stroke-width="1.9"/>
<line x1="1465.9" y1="832.2" x2="1473.9" y2="832.2" stroke="#000" stroke-width="1.9"/>
<line x1="1465.9" y1="785.5" x2="1473.9" y2="785.5" stroke="#000" stroke-width="1.9"/>
<line x1="1465.9" y1="738.8" x2="1473.9" y2="738.8" stroke="#000" stroke-width="1.9"/>
<line x1="1465.9" y1="692.1" x2="1473.9" y2="692.1" stroke="#000" stroke-width="1.9"/>
<line x1="1465.9" y1="645.4" x2="1473.9" y2="645.4" stroke="#000" stroke-width="1.9"/>
<text transform="translate(1453.9,884.1) scale(1.1746,1)" font-size="15" class="b">0</text>
<text transform="translate(1445.41,837.4) scale(1.1522,1)" font-size="15" class="b">20</text>
<text transform="translate(1445.85,790.7) scale(1.1217,1)" font-size="15" class="b">40</text>
<text transform="translate(1445.5,744) scale(1.1459,1)" font-size="15" class="b">60</text>
<text transform="translate(1445.5,697.3) scale(1.1459,1)" font-size="15" class="b">80</text>
<text transform="translate(1436.19,650.6) scale(1.1787,1)" font-size="15" class="b">100</text>
<line x1="1494.9" y1="878.9" x2="1494.9" y2="886.9" stroke="#000" stroke-width="1.9"/>
<line x1="1526.07" y1="878.9" x2="1526.07" y2="886.9" stroke="#000" stroke-width="1.9"/>
<line x1="1557.24" y1="878.9" x2="1557.24" y2="886.9" stroke="#000" stroke-width="1.9"/>
<line x1="1588.41" y1="878.9" x2="1588.41" y2="886.9" stroke="#000" stroke-width="1.9"/>
<line x1="1619.58" y1="878.9" x2="1619.58" y2="886.9" stroke="#000" stroke-width="1.9"/>
<line x1="1650.75" y1="878.9" x2="1650.75" y2="886.9" stroke="#000" stroke-width="1.9"/>
<line x1="1681.92" y1="878.9" x2="1681.92" y2="886.9" stroke="#000" stroke-width="1.9"/>
<line x1="1713.09" y1="878.9" x2="1713.09" y2="886.9" stroke="#000" stroke-width="1.9"/>
<line x1="1744.26" y1="878.9" x2="1744.26" y2="886.9" stroke="#000" stroke-width="1.9"/>
<line x1="1775.43" y1="878.9" x2="1775.43" y2="886.9" stroke="#000" stroke-width="1.9"/>
<line x1="1806.6" y1="878.9" x2="1806.6" y2="886.9" stroke="#000" stroke-width="1.9"/>
<line x1="1837.77" y1="878.9" x2="1837.77" y2="886.9" stroke="#000" stroke-width="1.9"/>
<line x1="1868.94" y1="878.9" x2="1868.94" y2="886.9" stroke="#000" stroke-width="1.9"/>
<line x1="1900.11" y1="878.9" x2="1900.11" y2="886.9" stroke="#000" stroke-width="1.9"/>
<line x1="1931.28" y1="878.9" x2="1931.28" y2="886.9" stroke="#000" stroke-width="1.9"/>
<text transform="translate(1485.5,903.1) scale(1.3699,1)" font-size="14.6" class="b">1</text>
<text transform="translate(1516.7,903.1) scale(1.2068,1)" font-size="14.6" class="b">2</text>
<text transform="translate(1548.3,903.1) scale(1.1787,1)" font-size="14.6" class="b">3</text>
<text transform="translate(1579.86,903.1) scale(1.0900,1)" font-size="14.6" class="b">4</text>
<text transform="translate(1612.1,903.1) scale(1.1926,1)" font-size="14.6" class="b">5</text>
<text transform="translate(1643.1,903.1) scale(1.1652,1)" font-size="14.6" class="b">6</text>
<text transform="translate(1673.93,903.1) scale(1.2068,1)" font-size="14.6" class="b">7</text>
<text transform="translate(1705.8,903.1) scale(1.1787,1)" font-size="14.6" class="b">8</text>
<text transform="translate(1738.68,903.1) scale(1.1519,1)" font-size="14.6" class="b">9</text>
<text transform="translate(1764.91,903.1) scale(1.2765,1)" font-size="14.6" class="b">10</text>
<text transform="translate(1827.8,903.1) scale(1.3699,1)" font-size="14.6" class="b">1</text>
<text transform="translate(1859.6,903.1) scale(1.2068,1)" font-size="14.6" class="b">2</text>
<text transform="translate(1890.8,903.1) scale(1.1787,1)" font-size="14.6" class="b">3</text>
<text transform="translate(1922.66,903.1) scale(1.0900,1)" font-size="14.6" class="b">4</text>
<text transform="translate(1581.85,926.7) scale(1.0062,1)" font-size="14.8" class="b">Acquisition Learning</text>
<text transform="translate(1624.32,942.5) scale(1.0802,1)" font-size="14.8" class="b">Session</text>
<text transform="translate(1827.98,924.3) scale(1.0062,1)" font-size="14.8" class="b">Reversal Learning</text>
<text transform="translate(1862.27,940) scale(1.0802,1)" font-size="14.8" class="b">Session</text>
<text transform="translate(1426.2,813.24) rotate(-90) scale(0.9974,1)" font-size="19" class="b">Strategy (%)</text>
<text transform="translate(29.1,1139.2) scale(0.8179,1)" font-size="42.7">G</text>
<text transform="translate(151.14,1147.5) scale(1.0726,1)" font-size="26.8">Probe Trial</text>
<line x1="145" y1="1268.7" x2="145" y2="1272" stroke="#000" stroke-width="1.4"/>
<line x1="137" y1="1268.7" x2="153" y2="1268.7" stroke="#000" stroke-width="1.4"/>
<rect x="130" y="1272.5" width="30" height="170.7" fill="#000" stroke="#000" stroke-width="1"/>
<line x1="192.25" y1="1274.5" x2="192.25" y2="1280" stroke="#000" stroke-width="1.4"/>
<line x1="184.25" y1="1274.5" x2="200.25" y2="1274.5" stroke="#000" stroke-width="1.4"/>
<rect x="177" y="1280.5" width="30.5" height="162.7" fill="#808080" stroke="#000" stroke-width="1"/>
<line x1="239.35" y1="1274.5" x2="239.35" y2="1279.2" stroke="#000" stroke-width="1.4"/>
<line x1="231.35" y1="1274.5" x2="247.35" y2="1274.5" stroke="#000" stroke-width="1.4"/>
<rect x="224.2" y="1279.7" width="30.3" height="163.5" fill="#fff" stroke="#000" stroke-width="1"/>
<line x1="113.6" y1="1205.68" x2="113.6" y2="1444.2" stroke="#000" stroke-width="2.1"/>
<line x1="103.5" y1="1443.2" x2="272" y2="1443.2" stroke="#000" stroke-width="2.3"/>
<line x1="103.3" y1="1443.2" x2="113.6" y2="1443.2" stroke="#000" stroke-width="2.1"/>
<text transform="translate(88.43,1450.4) scale(1.2715,1)" font-size="19.1" class="b">0</text>
<line x1="103.3" y1="1384.07" x2="113.6" y2="1384.07" stroke="#000" stroke-width="2.1"/>
<text transform="translate(76.75,1391.27) scale(1.2463,1)" font-size="19.1" class="b">50</text>
<line x1="103.3" y1="1324.94" x2="113.6" y2="1324.94" stroke="#000" stroke-width="2.1"/>
<text transform="translate(64.05,1332.14) scale(1.2748,1)" font-size="19.1" class="b">100</text>
<line x1="103.3" y1="1265.81" x2="113.6" y2="1265.81" stroke="#000" stroke-width="2.1"/>
<text transform="translate(64.05,1273.01) scale(1.2748,1)" font-size="19.1" class="b">150</text>
<line x1="103.3" y1="1206.68" x2="113.6" y2="1206.68" stroke="#000" stroke-width="2.1"/>
<text transform="translate(65.05,1213.88) scale(1.2388,1)" font-size="19.1" class="b">200</text>
<text transform="translate(29,1448.32) rotate(-90) scale(1.0753,1)" font-size="19.9" class="b">Time in target quadrant (s)</text>
<text transform="translate(53.4,1377.69) rotate(-90) scale(0.9887,1)" font-size="19.4" class="b">Mean ± SEM</text>
<text transform="translate(374.43,1139.2) scale(0.8346,1)" font-size="42.7">H</text>
<text transform="translate(457.34,1147.5) scale(1.0694,1)" font-size="26.8">Reversal Error</text>
<line x1="488.5" y1="1220.7" x2="488.5" y2="1227" stroke="#000" stroke-width="1.4"/>
<line x1="480.5" y1="1220.7" x2="496.5" y2="1220.7" stroke="#000" stroke-width="1.4"/>
<rect x="472.5" y="1227.5" width="32" height="215.7" fill="#000" stroke="#000" stroke-width="1"/>
<line x1="539" y1="1229.5" x2="539" y2="1241.2" stroke="#000" stroke-width="1.4"/>
<line x1="531" y1="1229.5" x2="547" y2="1229.5" stroke="#000" stroke-width="1.4"/>
<rect x="523" y="1241.7" width="32" height="201.5" fill="#808080" stroke="#000" stroke-width="1"/>
<line x1="588.5" y1="1215" x2="588.5" y2="1229.2" stroke="#000" stroke-width="1.4"/>
<line x1="580.5" y1="1215" x2="596.5" y2="1215" stroke="#000" stroke-width="1.4"/>
<rect x="572.5" y="1229.7" width="32" height="213.5" fill="#fff" stroke="#000" stroke-width="1"/>
<line x1="455.7" y1="1192.2" x2="455.7" y2="1444.2" stroke="#000" stroke-width="2.1"/>
<line x1="445" y1="1443.2" x2="623" y2="1443.2" stroke="#000" stroke-width="2.3"/>
<line x1="445.4" y1="1443.2" x2="455.7" y2="1443.2" stroke="#000" stroke-width="2.1"/>
<text transform="translate(429.59,1450.4) scale(1.3214,1)" font-size="19.1" class="b">0</text>
<line x1="445.4" y1="1380.7" x2="455.7" y2="1380.7" stroke="#000" stroke-width="2.1"/>
<text transform="translate(429.59,1387.9) scale(1.3214,1)" font-size="19.1" class="b">2</text>
<line x1="445.4" y1="1318.2" x2="455.7" y2="1318.2" stroke="#000" stroke-width="2.1"/>
<text transform="translate(430.26,1325.4) scale(1.1935,1)" font-size="19.1" class="b">4</text>
<line x1="445.4" y1="1255.7" x2="455.7" y2="1255.7" stroke="#000" stroke-width="2.1"/>
<text transform="translate(429.75,1262.9) scale(1.2758,1)" font-size="19.1" class="b">6</text>
<line x1="445.4" y1="1193.2" x2="455.7" y2="1193.2" stroke="#000" stroke-width="2.1"/>
<text transform="translate(429.74,1200.4) scale(1.2906,1)" font-size="19.1" class="b">8</text>
<text transform="translate(390.7,1343.33) rotate(-90) scale(1.0674,1)" font-size="20.5" class="b">Error</text>
<text transform="translate(417.2,1374.8) rotate(-90) scale(0.9886,1)" font-size="20.5" class="b">Mean ± SEM</text>
<text transform="translate(721.97,1139.2) scale(0.8219,1)" font-size="42.7">I</text>
<text transform="translate(821.16,1147.5) scale(1.0422,1)" font-size="26.8">Reversal Latency</text>
<line x1="857.1" y1="1218.2" x2="857.1" y2="1230.7" stroke="#000" stroke-width="1.4"/>
<line x1="849.1" y1="1218.2" x2="865.1" y2="1218.2" stroke="#000" stroke-width="1.4"/>
<rect x="841" y="1231.2" width="32.2" height="212" fill="#000" stroke="#000" stroke-width="1"/>
<line x1="907.1" y1="1255" x2="907.1" y2="1263.2" stroke="#000" stroke-width="1.4"/>
<line x1="899.1" y1="1255" x2="915.1" y2="1255" stroke="#000" stroke-width="1.4"/>
<rect x="891" y="1263.7" width="32.2" height="179.5" fill="#808080" stroke="#000" stroke-width="1"/>
<line x1="958.1" y1="1248.2" x2="958.1" y2="1258.2" stroke="#000" stroke-width="1.4"/>
<line x1="950.1" y1="1248.2" x2="966.1" y2="1248.2" stroke="#000" stroke-width="1.4"/>
<rect x="941.7" y="1258.7" width="32.8" height="184.5" fill="#fff" stroke="#000" stroke-width="1"/>
<line x1="823.7" y1="1190.2" x2="823.7" y2="1444.2" stroke="#000" stroke-width="2.1"/>
<line x1="813.2" y1="1443.2" x2="992" y2="1443.2" stroke="#000" stroke-width="2.3"/>
<line x1="813.4" y1="1443.2" x2="823.7" y2="1443.2" stroke="#000" stroke-width="2.1"/>
<text transform="translate(797.59,1450.4) scale(1.3214,1)" font-size="19.1" class="b">0</text>
<line x1="813.4" y1="1392.8" x2="823.7" y2="1392.8" stroke="#000" stroke-width="2.1"/>
<text transform="translate(785.62,1400) scale(1.2861,1)" font-size="19.1" class="b">20</text>
<line x1="813.4" y1="1342.4" x2="823.7" y2="1342.4" stroke="#000" stroke-width="2.1"/>
<text transform="translate(786.24,1349.6) scale(1.2521,1)" font-size="19.1" class="b">40</text>
<line x1="813.4" y1="1292" x2="823.7" y2="1292" stroke="#000" stroke-width="2.1"/>
<text transform="translate(785.74,1299.2) scale(1.2792,1)" font-size="19.1" class="b">60</text>
<line x1="813.4" y1="1241.6" x2="823.7" y2="1241.6" stroke="#000" stroke-width="2.1"/>
<text transform="translate(785.74,1248.8) scale(1.2792,1)" font-size="19.1" class="b">80</text>
<line x1="813.4" y1="1191.2" x2="823.7" y2="1191.2" stroke="#000" stroke-width="2.1"/>
<text transform="translate(772.59,1198.4) scale(1.3127,1)" font-size="19.1" class="b">100</text>
<text transform="translate(734,1370.34) rotate(-90) scale(1.1110,1)" font-size="20.4" class="b">Latency (s)</text>
<text transform="translate(758.5,1374.51) rotate(-90) scale(1.0083,1)" font-size="20.4" class="b">Mean ± SEM</text>
<text transform="translate(1081.4,1146.8) scale(0.7026,1.27)" font-size="42.7">J</text>
<text transform="translate(1194.43,1147.5) scale(1.0615,1)" font-size="26.8">Tail Suspension</text>
<line x1="1237.85" y1="1246.2" x2="1237.85" y2="1258" stroke="#000" stroke-width="1.4"/>
<line x1="1229.85" y1="1246.2" x2="1245.85" y2="1246.2" stroke="#000" stroke-width="1.4"/>
<rect x="1221.7" y="1258.5" width="32.3" height="182" fill="#000" stroke="#000" stroke-width="1"/>
<line x1="1287.85" y1="1253.7" x2="1287.85" y2="1267" stroke="#000" stroke-width="1.4"/>
<line x1="1279.85" y1="1253.7" x2="1295.85" y2="1253.7" stroke="#000" stroke-width="1.4"/>
<rect x="1271.7" y="1267.5" width="32.3" height="173" fill="#808080" stroke="#000" stroke-width="1"/>
<line x1="1338.35" y1="1247.5" x2="1338.35" y2="1265.5" stroke="#000" stroke-width="1.4"/>
<line x1="1330.35" y1="1247.5" x2="1346.35" y2="1247.5" stroke="#000" stroke-width="1.4"/>
<rect x="1322.2" y="1266" width="32.3" height="174.5" fill="#fff" stroke="#000" stroke-width="1"/>
<line x1="1205" y1="1189.1" x2="1205" y2="1441.5" stroke="#000" stroke-width="2.1"/>
<line x1="1194.2" y1="1440.5" x2="1373" y2="1440.5" stroke="#000" stroke-width="2.3"/>
<line x1="1194.7" y1="1440.5" x2="1205" y2="1440.5" stroke="#000" stroke-width="2.1"/>
<text transform="translate(1178.39,1447.7) scale(1.3214,1)" font-size="19.1" class="b">0</text>
<line x1="1194.7" y1="1377.9" x2="1205" y2="1377.9" stroke="#000" stroke-width="2.1"/>
<text transform="translate(1166.42,1385.1) scale(1.2861,1)" font-size="19.1" class="b">50</text>
<line x1="1194.7" y1="1315.3" x2="1205" y2="1315.3" stroke="#000" stroke-width="2.1"/>
<text transform="translate(1153.39,1322.5) scale(1.3127,1)" font-size="19.1" class="b">100</text>
<line x1="1194.7" y1="1252.7" x2="1205" y2="1252.7" stroke="#000" stroke-width="2.1"/>
<text transform="translate(1153.39,1259.9) scale(1.3127,1)" font-size="19.1" class="b">150</text>
<line x1="1194.7" y1="1190.1" x2="1205" y2="1190.1" stroke="#000" stroke-width="2.1"/>
<text transform="translate(1154.43,1197.3) scale(1.2757,1)" font-size="19.1" class="b">200</text>
<text transform="translate(1114.5,1407.8) rotate(-90) scale(1.1152,1)" font-size="20.4" class="b">Immobility time (s)</text>
<text transform="translate(1140,1371.51) rotate(-90) scale(0.9970,1)" font-size="20.4" class="b">Mean ± SEM</text>
<rect x="1426.4" y="1253.9" width="26" height="13" fill="#000" stroke="#000" stroke-width="1.2"/>
<text transform="translate(1467.4,1267.3) scale(1.1161,1)" font-size="20.1">Control</text>
<rect x="1426.4" y="1282.9" width="26" height="13" fill="#808080" stroke="#000" stroke-width="1.2"/>
<text transform="translate(1467.4,1296.6) scale(1.1139,1)" font-size="20.1">0.015% Aspartame</text>
<rect x="1426.4" y="1313.2" width="26" height="13" fill="#fff" stroke="#333" stroke-width="1.2"/>
<text transform="translate(1467.41,1326.3) scale(1.1131,1)" font-size="20.1">0.03% Aspartame</text>
</svg>
</body></html>
